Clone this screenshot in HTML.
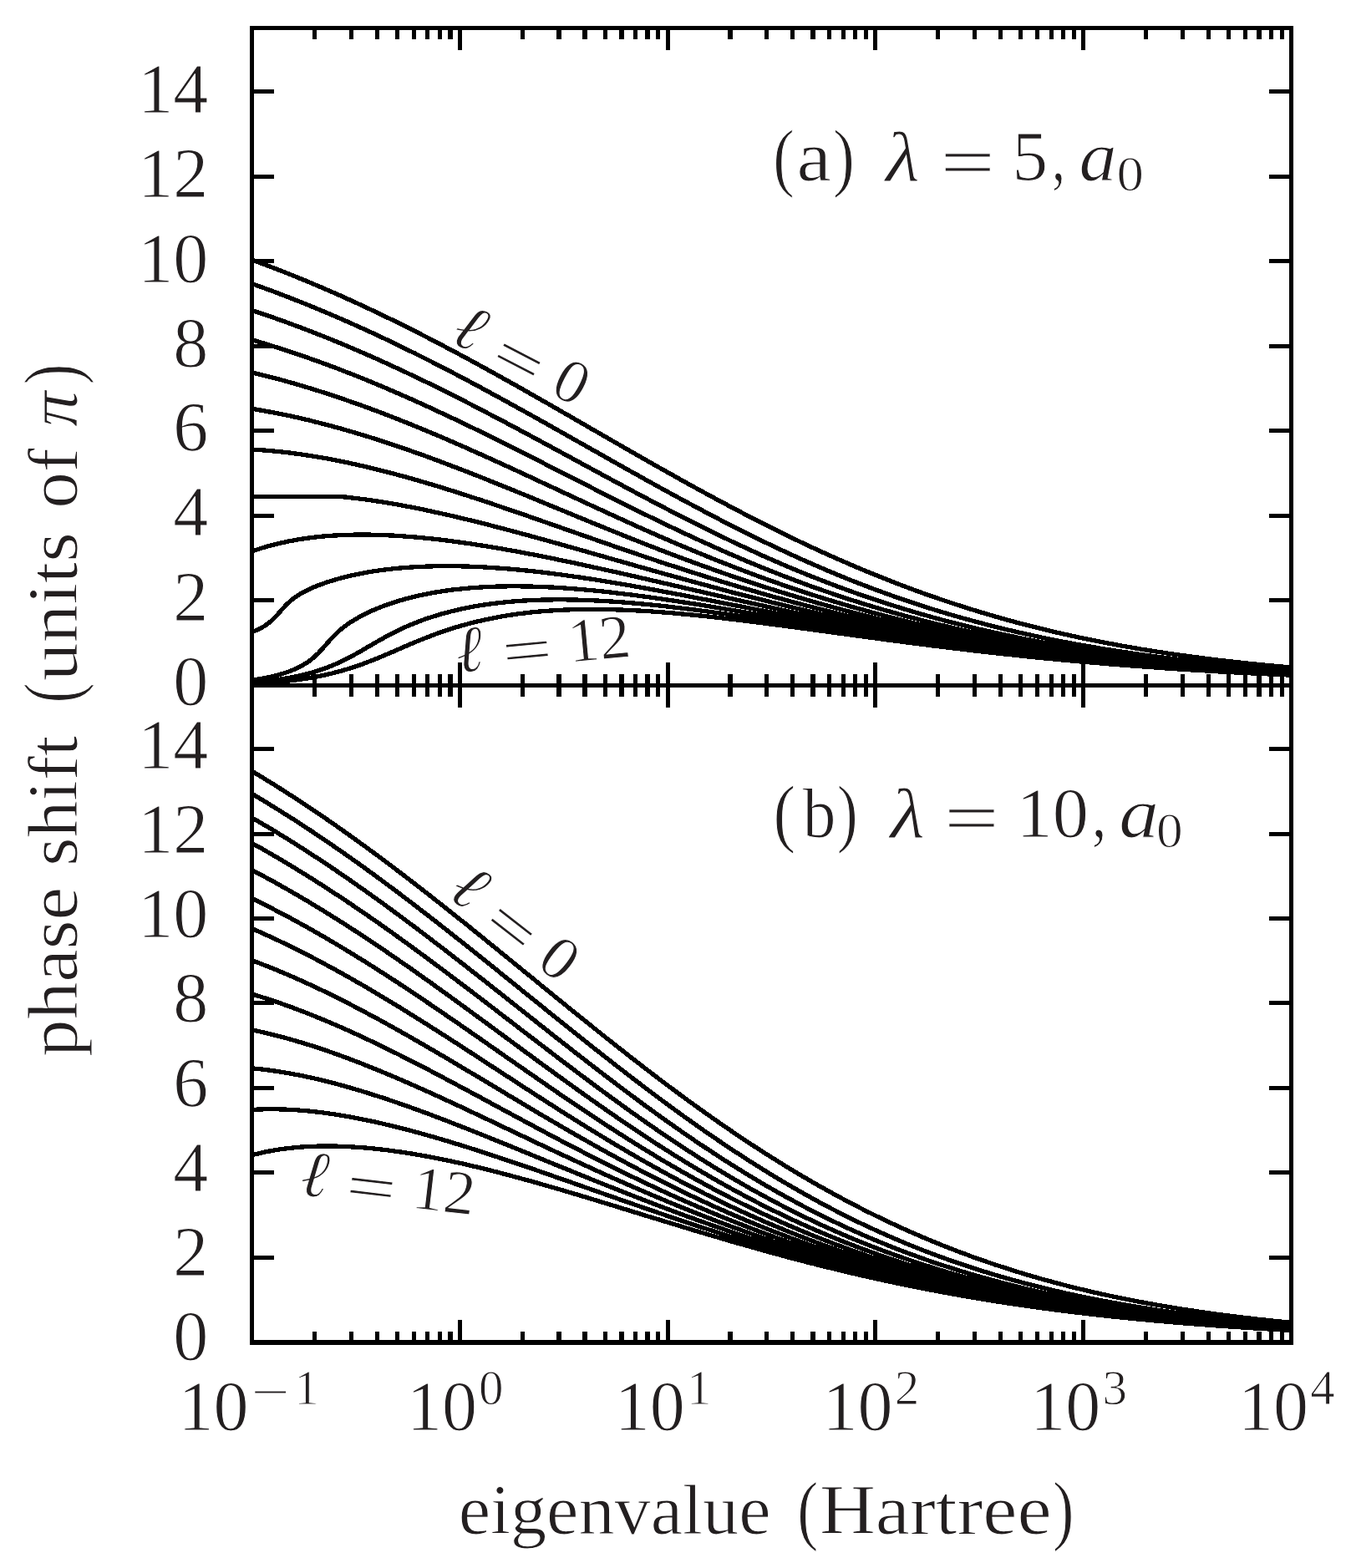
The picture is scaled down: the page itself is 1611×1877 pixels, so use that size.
<!DOCTYPE html>
<html lang="en"><head><meta charset="utf-8"><title>Phase shifts</title>
<style>html,body{margin:0;padding:0;background:#fff;overflow:hidden}svg{display:block}</style></head>
<body>
<svg width="1611" height="1877" viewBox="0 0 1611 1877" role="img" aria-label="Phase shifts versus eigenvalue for screening lengths 5 and 10 Bohr radii">
<rect x="0" y="0" width="1611" height="1877" fill="#ffffff"/>
<defs><clipPath id="ca"><rect x="301.5" y="33.5" width="1244.0" height="789.5"/></clipPath><clipPath id="cb"><rect x="301.5" y="820.5" width="1244.0" height="788.8"/></clipPath></defs>
<g fill="none" stroke="#000" stroke-width="5.3" stroke-linejoin="round" stroke-linecap="butt" shape-rendering="crispEdges" clip-path="url(#ca)">
<polyline points="301.5,311.0 306.5,312.8 311.5,314.7 316.4,316.5 321.4,318.4 326.4,320.3 331.4,322.3 336.3,324.2 341.3,326.1 346.3,328.1 351.3,330.1 356.2,332.1 361.2,334.2 366.2,336.2 371.2,338.3 376.1,340.4 381.1,342.5 386.1,344.6 391.1,346.8 396.0,348.9 401.0,351.1 406.0,353.3 411.0,355.5 415.9,357.8 420.9,360.0 425.9,362.3 430.9,364.6 435.9,366.9 440.8,369.2 445.8,371.6 450.8,373.9 455.8,376.3 460.7,378.7 465.7,381.1 470.7,383.5 475.7,386.0 480.6,388.4 485.6,390.9 490.6,393.4 495.6,395.9 500.5,398.4 505.5,401.0 510.5,403.5 515.5,406.1 520.4,408.7 525.4,411.3 530.4,413.9 535.4,416.5 540.3,419.1 545.3,421.8 550.3,424.4 555.3,427.1 560.3,429.8 565.2,432.5 570.2,435.2 575.2,437.9 580.2,440.6 585.1,443.4 590.1,446.1 595.1,448.9 600.1,451.7 605.0,454.4 610.0,457.2 615.0,460.0 620.0,462.8 624.9,465.6 629.9,468.5 634.9,471.3 639.9,474.1 644.8,477.0 649.8,479.8 654.8,482.6 659.8,485.5 664.7,488.3 669.7,491.2 674.7,494.1 679.7,496.9 684.7,499.8 689.6,502.7 694.6,505.5 699.6,508.4 704.6,511.3 709.5,514.2 714.5,517.0 719.5,519.9 724.5,522.8 729.4,525.6 734.4,528.5 739.4,531.4 744.4,534.2 749.3,537.1 754.3,540.0 759.3,542.8 764.3,545.7 769.2,548.5 774.2,551.3 779.2,554.2 784.2,557.0 789.1,559.8 794.1,562.6 799.1,565.4 804.1,568.2 809.1,571.0 814.0,573.8 819.0,576.5 824.0,579.3 829.0,582.0 833.9,584.8 838.9,587.5 843.9,590.2 848.9,592.9 853.8,595.6 858.8,598.3 863.8,601.0 868.8,603.6 873.7,606.3 878.7,608.9 883.7,611.5 888.7,614.1 893.6,616.7 898.6,619.3 903.6,621.8 908.6,624.4 913.5,626.9 918.5,629.4 923.5,631.9 928.5,634.4 933.5,636.8 938.4,639.3 943.4,641.7 948.4,644.1 953.4,646.5 958.3,648.9 963.3,651.2 968.3,653.6 973.3,655.9 978.2,658.2 983.2,660.5 988.2,662.7 993.2,665.0 998.1,667.2 1003.1,669.4 1008.1,671.6 1013.1,673.7 1018.0,675.9 1023.0,678.0 1028.0,680.1 1033.0,682.2 1037.9,684.3 1042.9,686.3 1047.9,688.3 1052.9,690.3 1057.9,692.3 1062.8,694.3 1067.8,696.2 1072.8,698.2 1077.8,700.1 1082.7,702.0 1087.7,703.8 1092.7,705.7 1097.7,707.5 1102.6,709.3 1107.6,711.1 1112.6,712.8 1117.6,714.6 1122.5,716.3 1127.5,718.0 1132.5,719.7 1137.5,721.3 1142.4,723.0 1147.4,724.6 1152.4,726.2 1157.4,727.8 1162.3,729.3 1167.3,730.9 1172.3,732.4 1177.3,733.9 1182.3,735.4 1187.2,736.8 1192.2,738.3 1197.2,739.7 1202.2,741.1 1207.1,742.5 1212.1,743.8 1217.1,745.2 1222.1,746.5 1227.0,747.8 1232.0,749.1 1237.0,750.3 1242.0,751.6 1246.9,752.8 1251.9,754.0 1256.9,755.2 1261.9,756.4 1266.8,757.6 1271.8,758.7 1276.8,759.8 1281.8,760.9 1286.7,762.0 1291.7,763.1 1296.7,764.1 1301.7,765.2 1306.7,766.2 1311.6,767.2 1316.6,768.2 1321.6,769.1 1326.6,770.1 1331.5,771.0 1336.5,771.9 1341.5,772.9 1346.5,773.7 1351.4,774.6 1356.4,775.5 1361.4,776.3 1366.4,777.2 1371.3,778.0 1376.3,778.8 1381.3,779.6 1386.3,780.3 1391.2,781.1 1396.2,781.9 1401.2,782.6 1406.2,783.3 1411.1,784.0 1416.1,784.7 1421.1,785.4 1426.1,786.1 1431.1,786.7 1436.0,787.4 1441.0,788.0 1446.0,788.6 1451.0,789.3 1455.9,789.9 1460.9,790.5 1465.9,791.0 1470.9,791.6 1475.8,792.2 1480.8,792.7 1485.8,793.2 1490.8,793.8 1495.7,794.3 1500.7,794.8 1505.7,795.3 1510.7,795.8 1515.6,796.3 1520.6,796.7 1525.6,797.2 1530.6,797.7 1535.5,798.1 1540.5,798.6 1545.5,799.0"/>
<polyline points="301.5,339.6 306.5,341.4 311.5,343.2 316.4,345.0 321.4,346.8 326.4,348.6 331.4,350.5 336.3,352.4 341.3,354.3 346.3,356.2 351.3,358.2 356.2,360.1 361.2,362.1 366.2,364.1 371.2,366.1 376.1,368.2 381.1,370.2 386.1,372.3 391.1,374.4 396.0,376.5 401.0,378.6 406.0,380.8 411.0,383.0 415.9,385.1 420.9,387.3 425.9,389.6 430.9,391.8 435.9,394.1 440.8,396.4 445.8,398.6 450.8,401.0 455.8,403.3 460.7,405.6 465.7,408.0 470.7,410.4 475.7,412.8 480.6,415.2 485.6,417.6 490.6,420.1 495.6,422.5 500.5,425.0 505.5,427.5 510.5,430.0 515.5,432.5 520.4,435.0 525.4,437.6 530.4,440.2 535.4,442.7 540.3,445.3 545.3,447.9 550.3,450.5 555.3,453.2 560.3,455.8 565.2,458.5 570.2,461.1 575.2,463.8 580.2,466.5 585.1,469.2 590.1,471.9 595.1,474.6 600.1,477.3 605.0,480.0 610.0,482.8 615.0,485.5 620.0,488.3 624.9,491.0 629.9,493.8 634.9,496.6 639.9,499.3 644.8,502.1 649.8,504.9 654.8,507.7 659.8,510.5 664.7,513.3 669.7,516.1 674.7,518.9 679.7,521.7 684.7,524.6 689.6,527.4 694.6,530.2 699.6,533.0 704.6,535.8 709.5,538.6 714.5,541.4 719.5,544.2 724.5,547.1 729.4,549.9 734.4,552.7 739.4,555.5 744.4,558.3 749.3,561.1 754.3,563.9 759.3,566.6 764.3,569.4 769.2,572.2 774.2,575.0 779.2,577.7 784.2,580.5 789.1,583.2 794.1,586.0 799.1,588.7 804.1,591.4 809.1,594.1 814.0,596.8 819.0,599.5 824.0,602.2 829.0,604.8 833.9,607.5 838.9,610.1 843.9,612.8 848.9,615.4 853.8,618.0 858.8,620.6 863.8,623.2 868.8,625.7 873.7,628.3 878.7,630.8 883.7,633.3 888.7,635.8 893.6,638.3 898.6,640.8 903.6,643.2 908.6,645.7 913.5,648.1 918.5,650.5 923.5,652.9 928.5,655.2 933.5,657.6 938.4,659.9 943.4,662.2 948.4,664.5 953.4,666.7 958.3,669.0 963.3,671.2 968.3,673.4 973.3,675.6 978.2,677.8 983.2,679.9 988.2,682.1 993.2,684.2 998.1,686.2 1003.1,688.3 1008.1,690.3 1013.1,692.4 1018.0,694.4 1023.0,696.3 1028.0,698.3 1033.0,700.2 1037.9,702.1 1042.9,704.0 1047.9,705.9 1052.9,707.7 1057.9,709.5 1062.8,711.3 1067.8,713.1 1072.8,714.9 1077.8,716.6 1082.7,718.3 1087.7,720.0 1092.7,721.7 1097.7,723.3 1102.6,724.9 1107.6,726.5 1112.6,728.1 1117.6,729.7 1122.5,731.2 1127.5,732.7 1132.5,734.2 1137.5,735.7 1142.4,737.1 1147.4,738.6 1152.4,740.0 1157.4,741.4 1162.3,742.7 1167.3,744.1 1172.3,745.4 1177.3,746.7 1182.3,748.0 1187.2,749.3 1192.2,750.5 1197.2,751.8 1202.2,753.0 1207.1,754.2 1212.1,755.3 1217.1,756.5 1222.1,757.6 1227.0,758.8 1232.0,759.9 1237.0,760.9 1242.0,762.0 1246.9,763.1 1251.9,764.1 1256.9,765.1 1261.9,766.1 1266.8,767.1 1271.8,768.1 1276.8,769.0 1281.8,769.9 1286.7,770.9 1291.7,771.8 1296.7,772.6 1301.7,773.5 1306.7,774.4 1311.6,775.2 1316.6,776.1 1321.6,776.9 1326.6,777.7 1331.5,778.5 1336.5,779.2 1341.5,780.0 1346.5,780.7 1351.4,781.5 1356.4,782.2 1361.4,782.9 1366.4,783.6 1371.3,784.3 1376.3,785.0 1381.3,785.6 1386.3,786.3 1391.2,786.9 1396.2,787.5 1401.2,788.2 1406.2,788.8 1411.1,789.4 1416.1,789.9 1421.1,790.5 1426.1,791.1 1431.1,791.6 1436.0,792.2 1441.0,792.7 1446.0,793.2 1451.0,793.7 1455.9,794.2 1460.9,794.7 1465.9,795.2 1470.9,795.7 1475.8,796.2 1480.8,796.6 1485.8,797.1 1490.8,797.5 1495.7,798.0 1500.7,798.4 1505.7,798.8 1510.7,799.2 1515.6,799.6 1520.6,800.0 1525.6,800.4 1530.6,800.8 1535.5,801.2 1540.5,801.6 1545.5,801.9"/>
<polyline points="301.5,371.5 306.5,373.1 311.5,374.8 316.4,376.5 321.4,378.2 326.4,379.9 331.4,381.7 336.3,383.4 341.3,385.2 346.3,387.0 351.3,388.9 356.2,390.7 361.2,392.6 366.2,394.5 371.2,396.4 376.1,398.3 381.1,400.3 386.1,402.2 391.1,404.2 396.0,406.2 401.0,408.3 406.0,410.3 411.0,412.4 415.9,414.5 420.9,416.6 425.9,418.7 430.9,420.9 435.9,423.0 440.8,425.2 445.8,427.4 450.8,429.6 455.8,431.8 460.7,434.1 465.7,436.4 470.7,438.7 475.7,441.0 480.6,443.3 485.6,445.6 490.6,448.0 495.6,450.3 500.5,452.7 505.5,455.1 510.5,457.5 515.5,459.9 520.4,462.4 525.4,464.8 530.4,467.3 535.4,469.8 540.3,472.3 545.3,474.8 550.3,477.3 555.3,479.8 560.3,482.4 565.2,484.9 570.2,487.5 575.2,490.1 580.2,492.7 585.1,495.3 590.1,497.9 595.1,500.5 600.1,503.1 605.0,505.7 610.0,508.4 615.0,511.0 620.0,513.7 624.9,516.3 629.9,519.0 634.9,521.7 639.9,524.3 644.8,527.0 649.8,529.7 654.8,532.4 659.8,535.1 664.7,537.8 669.7,540.5 674.7,543.2 679.7,545.9 684.7,548.6 689.6,551.3 694.6,554.0 699.6,556.7 704.6,559.4 709.5,562.1 714.5,564.8 719.5,567.5 724.5,570.2 729.4,572.9 734.4,575.5 739.4,578.2 744.4,580.9 749.3,583.6 754.3,586.2 759.3,588.9 764.3,591.5 769.2,594.2 774.2,596.8 779.2,599.4 784.2,602.0 789.1,604.7 794.1,607.2 799.1,609.8 804.1,612.4 809.1,615.0 814.0,617.5 819.0,620.1 824.0,622.6 829.0,625.1 833.9,627.6 838.9,630.1 843.9,632.6 848.9,635.0 853.8,637.5 858.8,639.9 863.8,642.3 868.8,644.7 873.7,647.1 878.7,649.5 883.7,651.8 888.7,654.1 893.6,656.4 898.6,658.7 903.6,661.0 908.6,663.3 913.5,665.5 918.5,667.7 923.5,669.9 928.5,672.1 933.5,674.2 938.4,676.4 943.4,678.5 948.4,680.6 953.4,682.7 958.3,684.7 963.3,686.8 968.3,688.8 973.3,690.8 978.2,692.7 983.2,694.7 988.2,696.6 993.2,698.5 998.1,700.4 1003.1,702.3 1008.1,704.1 1013.1,705.9 1018.0,707.7 1023.0,709.5 1028.0,711.3 1033.0,713.0 1037.9,714.7 1042.9,716.4 1047.9,718.1 1052.9,719.7 1057.9,721.4 1062.8,723.0 1067.8,724.5 1072.8,726.1 1077.8,727.7 1082.7,729.2 1087.7,730.7 1092.7,732.2 1097.7,733.6 1102.6,735.1 1107.6,736.5 1112.6,737.9 1117.6,739.3 1122.5,740.6 1127.5,742.0 1132.5,743.3 1137.5,744.6 1142.4,745.9 1147.4,747.1 1152.4,748.4 1157.4,749.6 1162.3,750.8 1167.3,752.0 1172.3,753.2 1177.3,754.3 1182.3,755.5 1187.2,756.6 1192.2,757.7 1197.2,758.8 1202.2,759.9 1207.1,760.9 1212.1,761.9 1217.1,763.0 1222.1,764.0 1227.0,765.0 1232.0,765.9 1237.0,766.9 1242.0,767.8 1246.9,768.8 1251.9,769.7 1256.9,770.6 1261.9,771.4 1266.8,772.3 1271.8,773.2 1276.8,774.0 1281.8,774.8 1286.7,775.6 1291.7,776.4 1296.7,777.2 1301.7,778.0 1306.7,778.8 1311.6,779.5 1316.6,780.3 1321.6,781.0 1326.6,781.7 1331.5,782.4 1336.5,783.1 1341.5,783.7 1346.5,784.4 1351.4,785.1 1356.4,785.7 1361.4,786.3 1366.4,787.0 1371.3,787.6 1376.3,788.2 1381.3,788.8 1386.3,789.3 1391.2,789.9 1396.2,790.5 1401.2,791.0 1406.2,791.6 1411.1,792.1 1416.1,792.6 1421.1,793.1 1426.1,793.6 1431.1,794.1 1436.0,794.6 1441.0,795.1 1446.0,795.6 1451.0,796.0 1455.9,796.5 1460.9,796.9 1465.9,797.4 1470.9,797.8 1475.8,798.2 1480.8,798.6 1485.8,799.0 1490.8,799.4 1495.7,799.8 1500.7,800.2 1505.7,800.6 1510.7,801.0 1515.6,801.3 1520.6,801.7 1525.6,802.0 1530.6,802.4 1535.5,802.7 1540.5,803.1 1545.5,803.4"/>
<polyline points="301.5,406.8 306.5,408.2 311.5,409.7 316.4,411.2 321.4,412.7 326.4,414.3 331.4,415.9 336.3,417.5 341.3,419.1 346.3,420.7 351.3,422.4 356.2,424.1 361.2,425.8 366.2,427.5 371.2,429.2 376.1,431.0 381.1,432.8 386.1,434.6 391.1,436.4 396.0,438.3 401.0,440.1 406.0,442.0 411.0,444.0 415.9,445.9 420.9,447.8 425.9,449.8 430.9,451.8 435.9,453.8 440.8,455.8 445.8,457.9 450.8,460.0 455.8,462.0 460.7,464.1 465.7,466.3 470.7,468.4 475.7,470.6 480.6,472.7 485.6,474.9 490.6,477.1 495.6,479.3 500.5,481.6 505.5,483.8 510.5,486.1 515.5,488.4 520.4,490.7 525.4,493.0 530.4,495.3 535.4,497.6 540.3,500.0 545.3,502.3 550.3,504.7 555.3,507.1 560.3,509.5 565.2,511.9 570.2,514.3 575.2,516.8 580.2,519.2 585.1,521.6 590.1,524.1 595.1,526.6 600.1,529.0 605.0,531.5 610.0,534.0 615.0,536.5 620.0,539.0 624.9,541.5 629.9,544.0 634.9,546.5 639.9,549.1 644.8,551.6 649.8,554.1 654.8,556.7 659.8,559.2 664.7,561.7 669.7,564.3 674.7,566.8 679.7,569.3 684.7,571.9 689.6,574.4 694.6,576.9 699.6,579.5 704.6,582.0 709.5,584.5 714.5,587.1 719.5,589.6 724.5,592.1 729.4,594.6 734.4,597.1 739.4,599.6 744.4,602.1 749.3,604.6 754.3,607.1 759.3,609.5 764.3,612.0 769.2,614.5 774.2,616.9 779.2,619.3 784.2,621.8 789.1,624.2 794.1,626.6 799.1,629.0 804.1,631.3 809.1,633.7 814.0,636.1 819.0,638.4 824.0,640.7 829.0,643.0 833.9,645.3 838.9,647.6 843.9,649.9 848.9,652.1 853.8,654.4 858.8,656.6 863.8,658.8 868.8,661.0 873.7,663.2 878.7,665.3 883.7,667.4 888.7,669.6 893.6,671.7 898.6,673.7 903.6,675.8 908.6,677.8 913.5,679.9 918.5,681.9 923.5,683.9 928.5,685.8 933.5,687.8 938.4,689.7 943.4,691.6 948.4,693.5 953.4,695.4 958.3,697.2 963.3,699.1 968.3,700.9 973.3,702.7 978.2,704.4 983.2,706.2 988.2,707.9 993.2,709.6 998.1,711.3 1003.1,713.0 1008.1,714.6 1013.1,716.3 1018.0,717.9 1023.0,719.5 1028.0,721.0 1033.0,722.6 1037.9,724.1 1042.9,725.6 1047.9,727.1 1052.9,728.6 1057.9,730.1 1062.8,731.5 1067.8,732.9 1072.8,734.3 1077.8,735.7 1082.7,737.1 1087.7,738.4 1092.7,739.7 1097.7,741.0 1102.6,742.3 1107.6,743.6 1112.6,744.8 1117.6,746.1 1122.5,747.3 1127.5,748.5 1132.5,749.7 1137.5,750.9 1142.4,752.0 1147.4,753.1 1152.4,754.3 1157.4,755.4 1162.3,756.5 1167.3,757.5 1172.3,758.6 1177.3,759.6 1182.3,760.6 1187.2,761.7 1192.2,762.6 1197.2,763.6 1202.2,764.6 1207.1,765.5 1212.1,766.5 1217.1,767.4 1222.1,768.3 1227.0,769.2 1232.0,770.1 1237.0,770.9 1242.0,771.8 1246.9,772.6 1251.9,773.5 1256.9,774.3 1261.9,775.1 1266.8,775.9 1271.8,776.6 1276.8,777.4 1281.8,778.1 1286.7,778.9 1291.7,779.6 1296.7,780.3 1301.7,781.0 1306.7,781.7 1311.6,782.4 1316.6,783.1 1321.6,783.7 1326.6,784.4 1331.5,785.0 1336.5,785.7 1341.5,786.3 1346.5,786.9 1351.4,787.5 1356.4,788.1 1361.4,788.7 1366.4,789.2 1371.3,789.8 1376.3,790.3 1381.3,790.9 1386.3,791.4 1391.2,791.9 1396.2,792.4 1401.2,792.9 1406.2,793.4 1411.1,793.9 1416.1,794.4 1421.1,794.9 1426.1,795.3 1431.1,795.8 1436.0,796.3 1441.0,796.7 1446.0,797.1 1451.0,797.6 1455.9,798.0 1460.9,798.4 1465.9,798.8 1470.9,799.2 1475.8,799.6 1480.8,800.0 1485.8,800.3 1490.8,800.7 1495.7,801.1 1500.7,801.4 1505.7,801.8 1510.7,802.1 1515.6,802.5 1520.6,802.8 1525.6,803.1 1530.6,803.5 1535.5,803.8 1540.5,804.1 1545.5,804.4"/>
<polyline points="301.5,445.9 306.5,447.1 311.5,448.3 316.4,449.5 321.4,450.8 326.4,452.1 331.4,453.4 336.3,454.7 341.3,456.1 346.3,457.5 351.3,458.9 356.2,460.3 361.2,461.8 366.2,463.3 371.2,464.8 376.1,466.4 381.1,467.9 386.1,469.5 391.1,471.1 396.0,472.7 401.0,474.4 406.0,476.0 411.0,477.7 415.9,479.5 420.9,481.2 425.9,483.0 430.9,484.7 435.9,486.5 440.8,488.3 445.8,490.2 450.8,492.0 455.8,493.9 460.7,495.8 465.7,497.7 470.7,499.7 475.7,501.6 480.6,503.6 485.6,505.6 490.6,507.6 495.6,509.6 500.5,511.6 505.5,513.7 510.5,515.7 515.5,517.8 520.4,519.9 525.4,522.0 530.4,524.1 535.4,526.3 540.3,528.4 545.3,530.6 550.3,532.8 555.3,534.9 560.3,537.1 565.2,539.4 570.2,541.6 575.2,543.8 580.2,546.0 585.1,548.3 590.1,550.5 595.1,552.8 600.1,555.1 605.0,557.3 610.0,559.6 615.0,561.9 620.0,564.2 624.9,566.5 629.9,568.8 634.9,571.1 639.9,573.4 644.8,575.8 649.8,578.1 654.8,580.4 659.8,582.7 664.7,585.0 669.7,587.4 674.7,589.7 679.7,592.0 684.7,594.3 689.6,596.6 694.6,599.0 699.6,601.3 704.6,603.6 709.5,605.9 714.5,608.2 719.5,610.5 724.5,612.8 729.4,615.1 734.4,617.3 739.4,619.6 744.4,621.9 749.3,624.1 754.3,626.4 759.3,628.6 764.3,630.9 769.2,633.1 774.2,635.3 779.2,637.5 784.2,639.7 789.1,641.9 794.1,644.0 799.1,646.2 804.1,648.4 809.1,650.5 814.0,652.6 819.0,654.7 824.0,656.8 829.0,658.9 833.9,660.9 838.9,663.0 843.9,665.0 848.9,667.1 853.8,669.1 858.8,671.1 863.8,673.0 868.8,675.0 873.7,676.9 878.7,678.9 883.7,680.8 888.7,682.7 893.6,684.5 898.6,686.4 903.6,688.3 908.6,690.1 913.5,691.9 918.5,693.7 923.5,695.5 928.5,697.2 933.5,699.0 938.4,700.7 943.4,702.4 948.4,704.1 953.4,705.8 958.3,707.4 963.3,709.0 968.3,710.7 973.3,712.3 978.2,713.9 983.2,715.4 988.2,717.0 993.2,718.5 998.1,720.0 1003.1,721.5 1008.1,723.0 1013.1,724.5 1018.0,725.9 1023.0,727.3 1028.0,728.7 1033.0,730.1 1037.9,731.5 1042.9,732.9 1047.9,734.2 1052.9,735.5 1057.9,736.9 1062.8,738.1 1067.8,739.4 1072.8,740.7 1077.8,741.9 1082.7,743.2 1087.7,744.4 1092.7,745.6 1097.7,746.8 1102.6,747.9 1107.6,749.1 1112.6,750.2 1117.6,751.3 1122.5,752.4 1127.5,753.5 1132.5,754.6 1137.5,755.7 1142.4,756.7 1147.4,757.7 1152.4,758.8 1157.4,759.8 1162.3,760.8 1167.3,761.7 1172.3,762.7 1177.3,763.6 1182.3,764.6 1187.2,765.5 1192.2,766.4 1197.2,767.3 1202.2,768.2 1207.1,769.1 1212.1,769.9 1217.1,770.8 1222.1,771.6 1227.0,772.4 1232.0,773.2 1237.0,774.0 1242.0,774.8 1246.9,775.6 1251.9,776.3 1256.9,777.1 1261.9,777.8 1266.8,778.5 1271.8,779.3 1276.8,780.0 1281.8,780.7 1286.7,781.3 1291.7,782.0 1296.7,782.7 1301.7,783.3 1306.7,784.0 1311.6,784.6 1316.6,785.2 1321.6,785.8 1326.6,786.4 1331.5,787.0 1336.5,787.6 1341.5,788.2 1346.5,788.7 1351.4,789.3 1356.4,789.8 1361.4,790.4 1366.4,790.9 1371.3,791.4 1376.3,792.0 1381.3,792.5 1386.3,793.0 1391.2,793.4 1396.2,793.9 1401.2,794.4 1406.2,794.9 1411.1,795.3 1416.1,795.8 1421.1,796.2 1426.1,796.6 1431.1,797.1 1436.0,797.5 1441.0,797.9 1446.0,798.3 1451.0,798.7 1455.9,799.1 1460.9,799.5 1465.9,799.9 1470.9,800.2 1475.8,800.6 1480.8,801.0 1485.8,801.3 1490.8,801.7 1495.7,802.0 1500.7,802.3 1505.7,802.7 1510.7,803.0 1515.6,803.3 1520.6,803.6 1525.6,803.9 1530.6,804.3 1535.5,804.5 1540.5,804.8 1545.5,805.1"/>
<polyline points="301.5,489.3 306.5,490.1 311.5,491.0 316.4,491.9 321.4,492.8 326.4,493.7 331.4,494.7 336.3,495.7 341.3,496.7 346.3,497.7 351.3,498.8 356.2,499.9 361.2,501.1 366.2,502.2 371.2,503.4 376.1,504.7 381.1,505.9 386.1,507.2 391.1,508.5 396.0,509.8 401.0,511.2 406.0,512.5 411.0,513.9 415.9,515.4 420.9,516.8 425.9,518.3 430.9,519.8 435.9,521.3 440.8,522.8 445.8,524.4 450.8,526.0 455.8,527.6 460.7,529.2 465.7,530.8 470.7,532.5 475.7,534.2 480.6,535.9 485.6,537.6 490.6,539.3 495.6,541.1 500.5,542.8 505.5,544.6 510.5,546.4 515.5,548.2 520.4,550.1 525.4,551.9 530.4,553.8 535.4,555.7 540.3,557.6 545.3,559.5 550.3,561.4 555.3,563.3 560.3,565.2 565.2,567.2 570.2,569.1 575.2,571.1 580.2,573.1 585.1,575.1 590.1,577.1 595.1,579.1 600.1,581.1 605.0,583.1 610.0,585.1 615.0,587.1 620.0,589.2 624.9,591.2 629.9,593.2 634.9,595.3 639.9,597.3 644.8,599.4 649.8,601.4 654.8,603.5 659.8,605.6 664.7,607.6 669.7,609.7 674.7,611.7 679.7,613.8 684.7,615.8 689.6,617.9 694.6,619.9 699.6,622.0 704.6,624.0 709.5,626.1 714.5,628.1 719.5,630.1 724.5,632.2 729.4,634.2 734.4,636.2 739.4,638.2 744.4,640.2 749.3,642.2 754.3,644.2 759.3,646.2 764.3,648.1 769.2,650.1 774.2,652.1 779.2,654.0 784.2,655.9 789.1,657.9 794.1,659.8 799.1,661.7 804.1,663.6 809.1,665.5 814.0,667.3 819.0,669.2 824.0,671.0 829.0,672.9 833.9,674.7 838.9,676.5 843.9,678.3 848.9,680.1 853.8,681.9 858.8,683.6 863.8,685.4 868.8,687.1 873.7,688.8 878.7,690.5 883.7,692.2 888.7,693.9 893.6,695.6 898.6,697.2 903.6,698.9 908.6,700.5 913.5,702.1 918.5,703.7 923.5,705.3 928.5,706.8 933.5,708.4 938.4,709.9 943.4,711.4 948.4,712.9 953.4,714.4 958.3,715.9 963.3,717.4 968.3,718.8 973.3,720.2 978.2,721.7 983.2,723.1 988.2,724.5 993.2,725.8 998.1,727.2 1003.1,728.5 1008.1,729.9 1013.1,731.2 1018.0,732.5 1023.0,733.8 1028.0,735.0 1033.0,736.3 1037.9,737.6 1042.9,738.8 1047.9,740.0 1052.9,741.2 1057.9,742.4 1062.8,743.6 1067.8,744.7 1072.8,745.9 1077.8,747.0 1082.7,748.1 1087.7,749.2 1092.7,750.3 1097.7,751.4 1102.6,752.5 1107.6,753.5 1112.6,754.5 1117.6,755.6 1122.5,756.6 1127.5,757.6 1132.5,758.6 1137.5,759.5 1142.4,760.5 1147.4,761.4 1152.4,762.4 1157.4,763.3 1162.3,764.2 1167.3,765.1 1172.3,766.0 1177.3,766.9 1182.3,767.7 1187.2,768.6 1192.2,769.4 1197.2,770.3 1202.2,771.1 1207.1,771.9 1212.1,772.7 1217.1,773.5 1222.1,774.2 1227.0,775.0 1232.0,775.7 1237.0,776.5 1242.0,777.2 1246.9,777.9 1251.9,778.6 1256.9,779.3 1261.9,780.0 1266.8,780.7 1271.8,781.4 1276.8,782.0 1281.8,782.7 1286.7,783.3 1291.7,783.9 1296.7,784.5 1301.7,785.2 1306.7,785.8 1311.6,786.3 1316.6,786.9 1321.6,787.5 1326.6,788.1 1331.5,788.6 1336.5,789.2 1341.5,789.7 1346.5,790.2 1351.4,790.8 1356.4,791.3 1361.4,791.8 1366.4,792.3 1371.3,792.8 1376.3,793.2 1381.3,793.7 1386.3,794.2 1391.2,794.7 1396.2,795.1 1401.2,795.5 1406.2,796.0 1411.1,796.4 1416.1,796.8 1421.1,797.3 1426.1,797.7 1431.1,798.1 1436.0,798.5 1441.0,798.9 1446.0,799.2 1451.0,799.6 1455.9,800.0 1460.9,800.4 1465.9,800.7 1470.9,801.1 1475.8,801.4 1480.8,801.8 1485.8,802.1 1490.8,802.4 1495.7,802.8 1500.7,803.1 1505.7,803.4 1510.7,803.7 1515.6,804.0 1520.6,804.3 1525.6,804.6 1530.6,804.9 1535.5,805.2 1540.5,805.4 1545.5,805.7"/>
<polyline points="301.5,538.1 306.5,538.4 311.5,538.7 316.4,539.0 321.4,539.4 326.4,539.9 331.4,540.4 336.3,540.9 341.3,541.4 346.3,542.0 351.3,542.7 356.2,543.3 361.2,544.0 366.2,544.8 371.2,545.5 376.1,546.3 381.1,547.2 386.1,548.0 391.1,548.9 396.0,549.9 401.0,550.8 406.0,551.8 411.0,552.8 415.9,553.8 420.9,554.9 425.9,556.0 430.9,557.1 435.9,558.3 440.8,559.4 445.8,560.6 450.8,561.9 455.8,563.1 460.7,564.4 465.7,565.7 470.7,567.0 475.7,568.3 480.6,569.6 485.6,571.0 490.6,572.4 495.6,573.8 500.5,575.2 505.5,576.7 510.5,578.2 515.5,579.6 520.4,581.1 525.4,582.6 530.4,584.2 535.4,585.7 540.3,587.3 545.3,588.8 550.3,590.4 555.3,592.0 560.3,593.6 565.2,595.3 570.2,596.9 575.2,598.5 580.2,600.2 585.1,601.8 590.1,603.5 595.1,605.2 600.1,606.9 605.0,608.6 610.0,610.3 615.0,612.0 620.0,613.7 624.9,615.4 629.9,617.1 634.9,618.9 639.9,620.6 644.8,622.3 649.8,624.1 654.8,625.8 659.8,627.6 664.7,629.3 669.7,631.0 674.7,632.8 679.7,634.5 684.7,636.3 689.6,638.0 694.6,639.8 699.6,641.5 704.6,643.3 709.5,645.0 714.5,646.7 719.5,648.5 724.5,650.2 729.4,651.9 734.4,653.7 739.4,655.4 744.4,657.1 749.3,658.8 754.3,660.5 759.3,662.2 764.3,663.9 769.2,665.6 774.2,667.3 779.2,668.9 784.2,670.6 789.1,672.3 794.1,673.9 799.1,675.6 804.1,677.2 809.1,678.8 814.0,680.4 819.0,682.1 824.0,683.7 829.0,685.2 833.9,686.8 838.9,688.4 843.9,690.0 848.9,691.5 853.8,693.1 858.8,694.6 863.8,696.2 868.8,697.7 873.7,699.2 878.7,700.7 883.7,702.2 888.7,703.6 893.6,705.1 898.6,706.6 903.6,708.0 908.6,709.4 913.5,710.9 918.5,712.3 923.5,713.7 928.5,715.1 933.5,716.4 938.4,717.8 943.4,719.2 948.4,720.5 953.4,721.8 958.3,723.1 963.3,724.5 968.3,725.7 973.3,727.0 978.2,728.3 983.2,729.6 988.2,730.8 993.2,732.0 998.1,733.3 1003.1,734.5 1008.1,735.7 1013.1,736.9 1018.0,738.1 1023.0,739.2 1028.0,740.4 1033.0,741.5 1037.9,742.6 1042.9,743.8 1047.9,744.9 1052.9,746.0 1057.9,747.0 1062.8,748.1 1067.8,749.2 1072.8,750.2 1077.8,751.3 1082.7,752.3 1087.7,753.3 1092.7,754.3 1097.7,755.3 1102.6,756.3 1107.6,757.2 1112.6,758.2 1117.6,759.1 1122.5,760.1 1127.5,761.0 1132.5,761.9 1137.5,762.8 1142.4,763.7 1147.4,764.6 1152.4,765.4 1157.4,766.3 1162.3,767.1 1167.3,767.9 1172.3,768.8 1177.3,769.6 1182.3,770.4 1187.2,771.2 1192.2,772.0 1197.2,772.7 1202.2,773.5 1207.1,774.2 1212.1,775.0 1217.1,775.7 1222.1,776.4 1227.0,777.1 1232.0,777.8 1237.0,778.5 1242.0,779.2 1246.9,779.9 1251.9,780.5 1256.9,781.2 1261.9,781.8 1266.8,782.5 1271.8,783.1 1276.8,783.7 1281.8,784.3 1286.7,784.9 1291.7,785.5 1296.7,786.1 1301.7,786.7 1306.7,787.2 1311.6,787.8 1316.6,788.4 1321.6,788.9 1326.6,789.4 1331.5,789.9 1336.5,790.5 1341.5,791.0 1346.5,791.5 1351.4,792.0 1356.4,792.5 1361.4,792.9 1366.4,793.4 1371.3,793.9 1376.3,794.3 1381.3,794.8 1386.3,795.2 1391.2,795.7 1396.2,796.1 1401.2,796.5 1406.2,796.9 1411.1,797.3 1416.1,797.7 1421.1,798.1 1426.1,798.5 1431.1,798.9 1436.0,799.3 1441.0,799.7 1446.0,800.0 1451.0,800.4 1455.9,800.7 1460.9,801.1 1465.9,801.4 1470.9,801.8 1475.8,802.1 1480.8,802.4 1485.8,802.8 1490.8,803.1 1495.7,803.4 1500.7,803.7 1505.7,804.0 1510.7,804.3 1515.6,804.6 1520.6,804.9 1525.6,805.1 1530.6,805.4 1535.5,805.7 1540.5,806.0 1545.5,806.2"/>
<polyline points="301.5,594.2 306.5,594.2 311.5,594.2 316.4,594.2 321.4,594.2 326.4,594.2 331.4,594.2 336.3,594.2 341.3,594.2 346.3,594.2 351.3,594.2 356.2,594.2 361.2,594.2 366.2,594.2 371.2,594.2 376.1,594.2 381.1,594.2 386.1,594.2 391.1,594.2 396.0,594.2 401.0,594.2 406.0,594.3 411.0,594.8 415.9,595.3 420.9,595.9 425.9,596.5 430.9,597.1 435.9,597.7 440.8,598.4 445.8,599.1 450.8,599.9 455.8,600.7 460.7,601.5 465.7,602.3 470.7,603.2 475.7,604.0 480.6,604.9 485.6,605.9 490.6,606.8 495.6,607.8 500.5,608.8 505.5,609.8 510.5,610.8 515.5,611.9 520.4,613.0 525.4,614.1 530.4,615.2 535.4,616.3 540.3,617.4 545.3,618.6 550.3,619.8 555.3,621.0 560.3,622.2 565.2,623.4 570.2,624.6 575.2,625.9 580.2,627.1 585.1,628.4 590.1,629.7 595.1,631.0 600.1,632.3 605.0,633.6 610.0,634.9 615.0,636.2 620.0,637.6 624.9,638.9 629.9,640.3 634.9,641.6 639.9,643.0 644.8,644.4 649.8,645.7 654.8,647.1 659.8,648.5 664.7,649.9 669.7,651.3 674.7,652.7 679.7,654.1 684.7,655.5 689.6,656.9 694.6,658.3 699.6,659.7 704.6,661.2 709.5,662.6 714.5,664.0 719.5,665.4 724.5,666.8 729.4,668.3 734.4,669.7 739.4,671.1 744.4,672.5 749.3,673.9 754.3,675.3 759.3,676.8 764.3,678.2 769.2,679.6 774.2,681.0 779.2,682.4 784.2,683.8 789.1,685.2 794.1,686.6 799.1,688.0 804.1,689.4 809.1,690.7 814.0,692.1 819.0,693.5 824.0,694.9 829.0,696.2 833.9,697.6 838.9,698.9 843.9,700.3 848.9,701.6 853.8,703.0 858.8,704.3 863.8,705.6 868.8,707.0 873.7,708.3 878.7,709.6 883.7,710.9 888.7,712.2 893.6,713.4 898.6,714.7 903.6,716.0 908.6,717.2 913.5,718.5 918.5,719.7 923.5,721.0 928.5,722.2 933.5,723.4 938.4,724.6 943.4,725.9 948.4,727.1 953.4,728.2 958.3,729.4 963.3,730.6 968.3,731.7 973.3,732.9 978.2,734.0 983.2,735.2 988.2,736.3 993.2,737.4 998.1,738.5 1003.1,739.6 1008.1,740.7 1013.1,741.8 1018.0,742.9 1023.0,743.9 1028.0,745.0 1033.0,746.0 1037.9,747.0 1042.9,748.1 1047.9,749.1 1052.9,750.1 1057.9,751.1 1062.8,752.0 1067.8,753.0 1072.8,754.0 1077.8,754.9 1082.7,755.9 1087.7,756.8 1092.7,757.7 1097.7,758.6 1102.6,759.5 1107.6,760.4 1112.6,761.3 1117.6,762.2 1122.5,763.0 1127.5,763.9 1132.5,764.7 1137.5,765.6 1142.4,766.4 1147.4,767.2 1152.4,768.0 1157.4,768.8 1162.3,769.6 1167.3,770.4 1172.3,771.1 1177.3,771.9 1182.3,772.7 1187.2,773.4 1192.2,774.1 1197.2,774.8 1202.2,775.6 1207.1,776.3 1212.1,777.0 1217.1,777.6 1222.1,778.3 1227.0,779.0 1232.0,779.6 1237.0,780.3 1242.0,780.9 1246.9,781.6 1251.9,782.2 1256.9,782.8 1261.9,783.4 1266.8,784.0 1271.8,784.6 1276.8,785.2 1281.8,785.8 1286.7,786.3 1291.7,786.9 1296.7,787.4 1301.7,788.0 1306.7,788.5 1311.6,789.1 1316.6,789.6 1321.6,790.1 1326.6,790.6 1331.5,791.1 1336.5,791.6 1341.5,792.1 1346.5,792.5 1351.4,793.0 1356.4,793.5 1361.4,793.9 1366.4,794.4 1371.3,794.8 1376.3,795.3 1381.3,795.7 1386.3,796.1 1391.2,796.5 1396.2,796.9 1401.2,797.3 1406.2,797.7 1411.1,798.1 1416.1,798.5 1421.1,798.9 1426.1,799.3 1431.1,799.6 1436.0,800.0 1441.0,800.4 1446.0,800.7 1451.0,801.0 1455.9,801.4 1460.9,801.7 1465.9,802.1 1470.9,802.4 1475.8,802.7 1480.8,803.0 1485.8,803.3 1490.8,803.6 1495.7,803.9 1500.7,804.2 1505.7,804.5 1510.7,804.8 1515.6,805.1 1520.6,805.3 1525.6,805.6 1530.6,805.9 1535.5,806.1 1540.5,806.4 1545.5,806.6"/>
<polyline points="301.5,660.1 306.5,658.3 311.5,656.7 316.4,655.1 321.4,653.7 326.4,652.4 331.4,651.1 336.3,650.0 341.3,648.9 346.3,647.8 351.3,646.9 356.2,646.0 361.2,645.2 366.2,644.4 371.2,643.8 376.1,643.2 381.1,642.6 386.1,642.1 391.1,641.7 396.0,641.3 401.0,641.0 406.0,640.7 411.0,640.5 415.9,640.3 420.9,640.2 425.9,640.1 430.9,640.1 435.9,640.1 440.8,640.1 445.8,640.2 450.8,640.3 455.8,640.5 460.7,640.6 465.7,640.9 470.7,641.1 475.7,641.4 480.6,641.7 485.6,642.1 490.6,642.5 495.6,642.9 500.5,643.3 505.5,643.8 510.5,644.3 515.5,644.8 520.4,645.3 525.4,645.9 530.4,646.5 535.4,647.1 540.3,647.8 545.3,648.4 550.3,649.1 555.3,649.8 560.3,650.5 565.2,651.2 570.2,652.0 575.2,652.8 580.2,653.6 585.1,654.4 590.1,655.2 595.1,656.0 600.1,656.9 605.0,657.8 610.0,658.6 615.0,659.5 620.0,660.5 624.9,661.4 629.9,662.3 634.9,663.3 639.9,664.2 644.8,665.2 649.8,666.2 654.8,667.2 659.8,668.2 664.7,669.2 669.7,670.3 674.7,671.3 679.7,672.3 684.7,673.4 689.6,674.4 694.6,675.5 699.6,676.6 704.6,677.7 709.5,678.8 714.5,679.9 719.5,681.0 724.5,682.1 729.4,683.2 734.4,684.3 739.4,685.4 744.4,686.5 749.3,687.7 754.3,688.8 759.3,689.9 764.3,691.1 769.2,692.2 774.2,693.4 779.2,694.5 784.2,695.7 789.1,696.8 794.1,698.0 799.1,699.1 804.1,700.3 809.1,701.4 814.0,702.6 819.0,703.7 824.0,704.9 829.0,706.0 833.9,707.2 838.9,708.3 843.9,709.5 848.9,710.6 853.8,711.8 858.8,712.9 863.8,714.0 868.8,715.2 873.7,716.3 878.7,717.4 883.7,718.6 888.7,719.7 893.6,720.8 898.6,721.9 903.6,723.0 908.6,724.1 913.5,725.2 918.5,726.3 923.5,727.4 928.5,728.5 933.5,729.6 938.4,730.7 943.4,731.8 948.4,732.8 953.4,733.9 958.3,734.9 963.3,736.0 968.3,737.0 973.3,738.1 978.2,739.1 983.2,740.1 988.2,741.1 993.2,742.1 998.1,743.1 1003.1,744.1 1008.1,745.1 1013.1,746.1 1018.0,747.1 1023.0,748.0 1028.0,749.0 1033.0,749.9 1037.9,750.9 1042.9,751.8 1047.9,752.7 1052.9,753.7 1057.9,754.6 1062.8,755.5 1067.8,756.4 1072.8,757.2 1077.8,758.1 1082.7,759.0 1087.7,759.9 1092.7,760.7 1097.7,761.6 1102.6,762.4 1107.6,763.2 1112.6,764.0 1117.6,764.9 1122.5,765.7 1127.5,766.5 1132.5,767.2 1137.5,768.0 1142.4,768.8 1147.4,769.5 1152.4,770.3 1157.4,771.0 1162.3,771.8 1167.3,772.5 1172.3,773.2 1177.3,773.9 1182.3,774.6 1187.2,775.3 1192.2,776.0 1197.2,776.7 1202.2,777.4 1207.1,778.0 1212.1,778.7 1217.1,779.3 1222.1,780.0 1227.0,780.6 1232.0,781.2 1237.0,781.8 1242.0,782.4 1246.9,783.0 1251.9,783.6 1256.9,784.2 1261.9,784.8 1266.8,785.4 1271.8,785.9 1276.8,786.5 1281.8,787.0 1286.7,787.6 1291.7,788.1 1296.7,788.6 1301.7,789.1 1306.7,789.6 1311.6,790.1 1316.6,790.6 1321.6,791.1 1326.6,791.6 1331.5,792.1 1336.5,792.6 1341.5,793.0 1346.5,793.5 1351.4,793.9 1356.4,794.4 1361.4,794.8 1366.4,795.2 1371.3,795.7 1376.3,796.1 1381.3,796.5 1386.3,796.9 1391.2,797.3 1396.2,797.7 1401.2,798.1 1406.2,798.4 1411.1,798.8 1416.1,799.2 1421.1,799.6 1426.1,799.9 1431.1,800.3 1436.0,800.6 1441.0,801.0 1446.0,801.3 1451.0,801.6 1455.9,802.0 1460.9,802.3 1465.9,802.6 1470.9,802.9 1475.8,803.2 1480.8,803.5 1485.8,803.8 1490.8,804.1 1495.7,804.4 1500.7,804.7 1505.7,804.9 1510.7,805.2 1515.6,805.5 1520.6,805.8 1525.6,806.0 1530.6,806.3 1535.5,806.5 1540.5,806.8 1545.5,807.0"/>
<polyline points="301.5,756.5 306.5,754.6 311.5,752.3 316.4,749.5 321.4,746.0 326.4,741.7 331.4,736.6 336.3,731.0 341.3,725.4 346.3,720.5 351.3,716.4 356.2,712.9 361.2,709.8 366.2,707.2 371.2,704.8 376.1,702.7 381.1,700.7 386.1,698.9 391.1,697.1 396.0,695.5 401.0,694.0 406.0,692.6 411.0,691.3 415.9,690.0 420.9,688.9 425.9,687.8 430.9,686.8 435.9,685.8 440.8,684.9 445.8,684.1 450.8,683.3 455.8,682.6 460.7,682.0 465.7,681.4 470.7,680.8 475.7,680.3 480.6,679.9 485.6,679.5 490.6,679.1 495.6,678.8 500.5,678.5 505.5,678.3 510.5,678.1 515.5,677.9 520.4,677.8 525.4,677.7 530.4,677.7 535.4,677.7 540.3,677.7 545.3,677.7 550.3,677.8 555.3,678.0 560.3,678.1 565.2,678.3 570.2,678.5 575.2,678.7 580.2,679.0 585.1,679.3 590.1,679.6 595.1,680.0 600.1,680.3 605.0,680.7 610.0,681.1 615.0,681.6 620.0,682.0 624.9,682.5 629.9,683.0 634.9,683.5 639.9,684.1 644.8,684.6 649.8,685.2 654.8,685.8 659.8,686.4 664.7,687.1 669.7,687.7 674.7,688.4 679.7,689.1 684.7,689.8 689.6,690.5 694.6,691.2 699.6,692.0 704.6,692.7 709.5,693.5 714.5,694.3 719.5,695.1 724.5,695.9 729.4,696.7 734.4,697.5 739.4,698.4 744.4,699.2 749.3,700.1 754.3,700.9 759.3,701.8 764.3,702.7 769.2,703.6 774.2,704.5 779.2,705.4 784.2,706.3 789.1,707.2 794.1,708.2 799.1,709.1 804.1,710.0 809.1,711.0 814.0,711.9 819.0,712.9 824.0,713.8 829.0,714.8 833.9,715.7 838.9,716.7 843.9,717.7 848.9,718.6 853.8,719.6 858.8,720.6 863.8,721.5 868.8,722.5 873.7,723.5 878.7,724.5 883.7,725.4 888.7,726.4 893.6,727.4 898.6,728.3 903.6,729.3 908.6,730.3 913.5,731.2 918.5,732.2 923.5,733.2 928.5,734.1 933.5,735.1 938.4,736.0 943.4,737.0 948.4,737.9 953.4,738.9 958.3,739.8 963.3,740.8 968.3,741.7 973.3,742.6 978.2,743.6 983.2,744.5 988.2,745.4 993.2,746.3 998.1,747.2 1003.1,748.1 1008.1,749.0 1013.1,749.9 1018.0,750.8 1023.0,751.7 1028.0,752.6 1033.0,753.4 1037.9,754.3 1042.9,755.2 1047.9,756.0 1052.9,756.8 1057.9,757.7 1062.8,758.5 1067.8,759.3 1072.8,760.2 1077.8,761.0 1082.7,761.8 1087.7,762.6 1092.7,763.4 1097.7,764.2 1102.6,764.9 1107.6,765.7 1112.6,766.5 1117.6,767.2 1122.5,768.0 1127.5,768.7 1132.5,769.5 1137.5,770.2 1142.4,770.9 1147.4,771.6 1152.4,772.3 1157.4,773.0 1162.3,773.7 1167.3,774.4 1172.3,775.1 1177.3,775.7 1182.3,776.4 1187.2,777.1 1192.2,777.7 1197.2,778.3 1202.2,779.0 1207.1,779.6 1212.1,780.2 1217.1,780.8 1222.1,781.4 1227.0,782.0 1232.0,782.6 1237.0,783.2 1242.0,783.8 1246.9,784.4 1251.9,784.9 1256.9,785.5 1261.9,786.0 1266.8,786.6 1271.8,787.1 1276.8,787.6 1281.8,788.1 1286.7,788.7 1291.7,789.2 1296.7,789.7 1301.7,790.2 1306.7,790.6 1311.6,791.1 1316.6,791.6 1321.6,792.1 1326.6,792.5 1331.5,793.0 1336.5,793.4 1341.5,793.9 1346.5,794.3 1351.4,794.7 1356.4,795.2 1361.4,795.6 1366.4,796.0 1371.3,796.4 1376.3,796.8 1381.3,797.2 1386.3,797.6 1391.2,798.0 1396.2,798.3 1401.2,798.7 1406.2,799.1 1411.1,799.4 1416.1,799.8 1421.1,800.1 1426.1,800.5 1431.1,800.8 1436.0,801.2 1441.0,801.5 1446.0,801.8 1451.0,802.1 1455.9,802.4 1460.9,802.8 1465.9,803.1 1470.9,803.4 1475.8,803.7 1480.8,804.0 1485.8,804.2 1490.8,804.5 1495.7,804.8 1500.7,805.1 1505.7,805.3 1510.7,805.6 1515.6,805.9 1520.6,806.1 1525.6,806.4 1530.6,806.6 1535.5,806.9 1540.5,807.1 1545.5,807.3"/>
<polyline points="301.5,814.2 306.5,813.5 311.5,812.7 316.4,811.7 321.4,810.7 326.4,809.6 331.4,808.4 336.3,807.0 341.3,805.4 346.3,803.7 351.3,801.7 356.2,799.5 361.2,796.9 366.2,794.0 371.2,790.5 376.1,786.4 381.1,781.7 386.1,776.3 391.1,770.6 396.0,765.0 401.0,759.8 406.0,755.1 411.0,751.0 415.9,747.3 420.9,744.0 425.9,741.0 430.9,738.1 435.9,735.5 440.8,733.1 445.8,730.8 450.8,728.7 455.8,726.7 460.7,724.8 465.7,723.0 470.7,721.4 475.7,719.8 480.6,718.3 485.6,716.9 490.6,715.6 495.6,714.3 500.5,713.2 505.5,712.1 510.5,711.1 515.5,710.1 520.4,709.2 525.4,708.4 530.4,707.6 535.4,706.9 540.3,706.2 545.3,705.6 550.3,705.1 555.3,704.6 560.3,704.1 565.2,703.7 570.2,703.3 575.2,703.0 580.2,702.7 585.1,702.5 590.1,702.3 595.1,702.1 600.1,702.0 605.0,701.9 610.0,701.8 615.0,701.8 620.0,701.8 624.9,701.9 629.9,702.0 634.9,702.1 639.9,702.2 644.8,702.4 649.8,702.6 654.8,702.8 659.8,703.0 664.7,703.3 669.7,703.6 674.7,703.9 679.7,704.3 684.7,704.7 689.6,705.0 694.6,705.5 699.6,705.9 704.6,706.4 709.5,706.8 714.5,707.3 719.5,707.8 724.5,708.4 729.4,708.9 734.4,709.5 739.4,710.1 744.4,710.6 749.3,711.3 754.3,711.9 759.3,712.5 764.3,713.2 769.2,713.8 774.2,714.5 779.2,715.2 784.2,715.9 789.1,716.6 794.1,717.3 799.1,718.1 804.1,718.8 809.1,719.6 814.0,720.3 819.0,721.1 824.0,721.8 829.0,722.6 833.9,723.4 838.9,724.2 843.9,725.0 848.9,725.8 853.8,726.6 858.8,727.4 863.8,728.3 868.8,729.1 873.7,729.9 878.7,730.7 883.7,731.6 888.7,732.4 893.6,733.3 898.6,734.1 903.6,734.9 908.6,735.8 913.5,736.6 918.5,737.5 923.5,738.3 928.5,739.2 933.5,740.0 938.4,740.9 943.4,741.7 948.4,742.6 953.4,743.4 958.3,744.2 963.3,745.1 968.3,745.9 973.3,746.8 978.2,747.6 983.2,748.4 988.2,749.3 993.2,750.1 998.1,750.9 1003.1,751.7 1008.1,752.5 1013.1,753.4 1018.0,754.2 1023.0,755.0 1028.0,755.8 1033.0,756.6 1037.9,757.4 1042.9,758.2 1047.9,758.9 1052.9,759.7 1057.9,760.5 1062.8,761.3 1067.8,762.0 1072.8,762.8 1077.8,763.5 1082.7,764.3 1087.7,765.0 1092.7,765.8 1097.7,766.5 1102.6,767.2 1107.6,767.9 1112.6,768.7 1117.6,769.4 1122.5,770.1 1127.5,770.8 1132.5,771.4 1137.5,772.1 1142.4,772.8 1147.4,773.5 1152.4,774.1 1157.4,774.8 1162.3,775.5 1167.3,776.1 1172.3,776.7 1177.3,777.4 1182.3,778.0 1187.2,778.6 1192.2,779.2 1197.2,779.8 1202.2,780.4 1207.1,781.0 1212.1,781.6 1217.1,782.2 1222.1,782.8 1227.0,783.3 1232.0,783.9 1237.0,784.4 1242.0,785.0 1246.9,785.5 1251.9,786.1 1256.9,786.6 1261.9,787.1 1266.8,787.6 1271.8,788.1 1276.8,788.6 1281.8,789.1 1286.7,789.6 1291.7,790.1 1296.7,790.6 1301.7,791.1 1306.7,791.5 1311.6,792.0 1316.6,792.4 1321.6,792.9 1326.6,793.3 1331.5,793.8 1336.5,794.2 1341.5,794.6 1346.5,795.0 1351.4,795.5 1356.4,795.9 1361.4,796.3 1366.4,796.7 1371.3,797.1 1376.3,797.4 1381.3,797.8 1386.3,798.2 1391.2,798.6 1396.2,798.9 1401.2,799.3 1406.2,799.6 1411.1,800.0 1416.1,800.3 1421.1,800.7 1426.1,801.0 1431.1,801.3 1436.0,801.7 1441.0,802.0 1446.0,802.3 1451.0,802.6 1455.9,802.9 1460.9,803.2 1465.9,803.5 1470.9,803.8 1475.8,804.1 1480.8,804.4 1485.8,804.6 1490.8,804.9 1495.7,805.2 1500.7,805.4 1505.7,805.7 1510.7,806.0 1515.6,806.2 1520.6,806.5 1525.6,806.7 1530.6,806.9 1535.5,807.2 1540.5,807.4 1545.5,807.6"/>
<polyline points="301.5,817.0 306.5,816.6 311.5,816.1 316.4,815.6 321.4,815.1 326.4,814.4 331.4,813.8 336.3,813.0 341.3,812.2 346.3,811.4 351.3,810.4 356.2,809.4 361.2,808.3 366.2,807.0 371.2,805.7 376.1,804.3 381.1,802.7 386.1,801.1 391.1,799.3 396.0,797.3 401.0,795.2 406.0,793.0 411.0,790.7 415.9,788.2 420.9,785.5 425.9,782.8 430.9,780.0 435.9,777.1 440.8,774.2 445.8,771.3 450.8,768.4 455.8,765.6 460.7,762.8 465.7,760.1 470.7,757.6 475.7,755.1 480.6,752.7 485.6,750.4 490.6,748.3 495.6,746.2 500.5,744.3 505.5,742.4 510.5,740.6 515.5,739.0 520.4,737.4 525.4,735.9 530.4,734.4 535.4,733.1 540.3,731.8 545.3,730.6 550.3,729.4 555.3,728.4 560.3,727.4 565.2,726.4 570.2,725.5 575.2,724.7 580.2,723.9 585.1,723.2 590.1,722.5 595.1,721.9 600.1,721.4 605.0,720.8 610.0,720.4 615.0,719.9 620.0,719.6 624.9,719.2 629.9,718.9 634.9,718.6 639.9,718.4 644.8,718.2 649.8,718.1 654.8,718.0 659.8,717.9 664.7,717.8 669.7,717.8 674.7,717.8 679.7,717.9 684.7,718.0 689.6,718.1 694.6,718.2 699.6,718.4 704.6,718.6 709.5,718.8 714.5,719.0 719.5,719.3 724.5,719.5 729.4,719.9 734.4,720.2 739.4,720.5 744.4,720.9 749.3,721.3 754.3,721.7 759.3,722.1 764.3,722.6 769.2,723.0 774.2,723.5 779.2,724.0 784.2,724.5 789.1,725.0 794.1,725.6 799.1,726.1 804.1,726.7 809.1,727.3 814.0,727.9 819.0,728.5 824.0,729.1 829.0,729.7 833.9,730.3 838.9,731.0 843.9,731.6 848.9,732.3 853.8,733.0 858.8,733.6 863.8,734.3 868.8,735.0 873.7,735.7 878.7,736.4 883.7,737.1 888.7,737.9 893.6,738.6 898.6,739.3 903.6,740.0 908.6,740.8 913.5,741.5 918.5,742.2 923.5,743.0 928.5,743.7 933.5,744.5 938.4,745.2 943.4,746.0 948.4,746.7 953.4,747.5 958.3,748.2 963.3,749.0 968.3,749.7 973.3,750.5 978.2,751.2 983.2,752.0 988.2,752.7 993.2,753.5 998.1,754.2 1003.1,755.0 1008.1,755.7 1013.1,756.5 1018.0,757.2 1023.0,758.0 1028.0,758.7 1033.0,759.4 1037.9,760.2 1042.9,760.9 1047.9,761.6 1052.9,762.3 1057.9,763.0 1062.8,763.7 1067.8,764.5 1072.8,765.2 1077.8,765.9 1082.7,766.6 1087.7,767.3 1092.7,767.9 1097.7,768.6 1102.6,769.3 1107.6,770.0 1112.6,770.6 1117.6,771.3 1122.5,772.0 1127.5,772.6 1132.5,773.3 1137.5,773.9 1142.4,774.5 1147.4,775.2 1152.4,775.8 1157.4,776.4 1162.3,777.0 1167.3,777.6 1172.3,778.2 1177.3,778.8 1182.3,779.4 1187.2,780.0 1192.2,780.6 1197.2,781.2 1202.2,781.7 1207.1,782.3 1212.1,782.9 1217.1,783.4 1222.1,784.0 1227.0,784.5 1232.0,785.0 1237.0,785.6 1242.0,786.1 1246.9,786.6 1251.9,787.1 1256.9,787.6 1261.9,788.1 1266.8,788.6 1271.8,789.1 1276.8,789.6 1281.8,790.1 1286.7,790.5 1291.7,791.0 1296.7,791.4 1301.7,791.9 1306.7,792.3 1311.6,792.8 1316.6,793.2 1321.6,793.7 1326.6,794.1 1331.5,794.5 1336.5,794.9 1341.5,795.3 1346.5,795.7 1351.4,796.1 1356.4,796.5 1361.4,796.9 1366.4,797.3 1371.3,797.7 1376.3,798.0 1381.3,798.4 1386.3,798.8 1391.2,799.1 1396.2,799.5 1401.2,799.8 1406.2,800.2 1411.1,800.5 1416.1,800.8 1421.1,801.1 1426.1,801.5 1431.1,801.8 1436.0,802.1 1441.0,802.4 1446.0,802.7 1451.0,803.0 1455.9,803.3 1460.9,803.6 1465.9,803.9 1470.9,804.2 1475.8,804.4 1480.8,804.7 1485.8,805.0 1490.8,805.3 1495.7,805.5 1500.7,805.8 1505.7,806.0 1510.7,806.3 1515.6,806.5 1520.6,806.8 1525.6,807.0 1530.6,807.2 1535.5,807.5 1540.5,807.7 1545.5,807.9"/>
<polyline points="301.5,818.5 306.5,818.2 311.5,817.9 316.4,817.6 321.4,817.2 326.4,816.9 331.4,816.4 336.3,816.0 341.3,815.5 346.3,814.9 351.3,814.4 356.2,813.7 361.2,813.0 366.2,812.3 371.2,811.4 376.1,810.6 381.1,809.6 386.1,808.6 391.1,807.5 396.0,806.4 401.0,805.1 406.0,803.8 411.0,802.4 415.9,800.9 420.9,799.4 425.9,797.7 430.9,796.0 435.9,794.2 440.8,792.3 445.8,790.4 450.8,788.4 455.8,786.3 460.7,784.2 465.7,782.1 470.7,780.0 475.7,777.8 480.6,775.6 485.6,773.5 490.6,771.3 495.6,769.2 500.5,767.2 505.5,765.2 510.5,763.2 515.5,761.3 520.4,759.4 525.4,757.6 530.4,755.9 535.4,754.2 540.3,752.6 545.3,751.0 550.3,749.6 555.3,748.1 560.3,746.8 565.2,745.5 570.2,744.2 575.2,743.1 580.2,741.9 585.1,740.9 590.1,739.9 595.1,738.9 600.1,738.0 605.0,737.2 610.0,736.4 615.0,735.6 620.0,734.9 624.9,734.3 629.9,733.7 634.9,733.1 639.9,732.6 644.8,732.1 649.8,731.7 654.8,731.3 659.8,731.0 664.7,730.7 669.7,730.4 674.7,730.1 679.7,729.9 684.7,729.8 689.6,729.6 694.6,729.5 699.6,729.5 704.6,729.4 709.5,729.4 714.5,729.4 719.5,729.5 724.5,729.5 729.4,729.6 734.4,729.8 739.4,729.9 744.4,730.1 749.3,730.3 754.3,730.5 759.3,730.8 764.3,731.0 769.2,731.3 774.2,731.6 779.2,731.9 784.2,732.3 789.1,732.6 794.1,733.0 799.1,733.4 804.1,733.8 809.1,734.3 814.0,734.7 819.0,735.2 824.0,735.6 829.0,736.1 833.9,736.6 838.9,737.1 843.9,737.6 848.9,738.2 853.8,738.7 858.8,739.3 863.8,739.8 868.8,740.4 873.7,741.0 878.7,741.6 883.7,742.2 888.7,742.8 893.6,743.4 898.6,744.0 903.6,744.7 908.6,745.3 913.5,745.9 918.5,746.6 923.5,747.2 928.5,747.9 933.5,748.5 938.4,749.2 943.4,749.9 948.4,750.5 953.4,751.2 958.3,751.9 963.3,752.5 968.3,753.2 973.3,753.9 978.2,754.6 983.2,755.2 988.2,755.9 993.2,756.6 998.1,757.3 1003.1,758.0 1008.1,758.6 1013.1,759.3 1018.0,760.0 1023.0,760.7 1028.0,761.3 1033.0,762.0 1037.9,762.7 1042.9,763.4 1047.9,764.0 1052.9,764.7 1057.9,765.4 1062.8,766.0 1067.8,766.7 1072.8,767.3 1077.8,768.0 1082.7,768.6 1087.7,769.3 1092.7,769.9 1097.7,770.6 1102.6,771.2 1107.6,771.8 1112.6,772.5 1117.6,773.1 1122.5,773.7 1127.5,774.3 1132.5,774.9 1137.5,775.5 1142.4,776.1 1147.4,776.7 1152.4,777.3 1157.4,777.9 1162.3,778.5 1167.3,779.1 1172.3,779.6 1177.3,780.2 1182.3,780.8 1187.2,781.3 1192.2,781.9 1197.2,782.4 1202.2,783.0 1207.1,783.5 1212.1,784.0 1217.1,784.5 1222.1,785.1 1227.0,785.6 1232.0,786.1 1237.0,786.6 1242.0,787.1 1246.9,787.6 1251.9,788.1 1256.9,788.6 1261.9,789.0 1266.8,789.5 1271.8,790.0 1276.8,790.4 1281.8,790.9 1286.7,791.3 1291.7,791.8 1296.7,792.2 1301.7,792.7 1306.7,793.1 1311.6,793.5 1316.6,793.9 1321.6,794.4 1326.6,794.8 1331.5,795.2 1336.5,795.6 1341.5,796.0 1346.5,796.3 1351.4,796.7 1356.4,797.1 1361.4,797.5 1366.4,797.8 1371.3,798.2 1376.3,798.6 1381.3,798.9 1386.3,799.3 1391.2,799.6 1396.2,800.0 1401.2,800.3 1406.2,800.6 1411.1,801.0 1416.1,801.3 1421.1,801.6 1426.1,801.9 1431.1,802.2 1436.0,802.5 1441.0,802.8 1446.0,803.1 1451.0,803.4 1455.9,803.7 1460.9,804.0 1465.9,804.2 1470.9,804.5 1475.8,804.8 1480.8,805.1 1485.8,805.3 1490.8,805.6 1495.7,805.8 1500.7,806.1 1505.7,806.3 1510.7,806.6 1515.6,806.8 1520.6,807.0 1525.6,807.3 1530.6,807.5 1535.5,807.7 1540.5,807.9 1545.5,808.2"/>
</g>
<g fill="none" stroke="#000" stroke-width="5.3" stroke-linejoin="round" stroke-linecap="butt" shape-rendering="crispEdges" clip-path="url(#cb)">
<polyline points="301.5,923.1 306.5,926.1 311.5,929.1 316.4,932.1 321.4,935.2 326.4,938.3 331.4,941.4 336.3,944.5 341.3,947.7 346.3,950.9 351.3,954.1 356.2,957.4 361.2,960.6 366.2,963.9 371.2,967.2 376.1,970.6 381.1,973.9 386.1,977.3 391.1,980.7 396.0,984.2 401.0,987.6 406.0,991.1 411.0,994.6 415.9,998.2 420.9,1001.7 425.9,1005.3 430.9,1008.9 435.9,1012.5 440.8,1016.1 445.8,1019.8 450.8,1023.4 455.8,1027.1 460.7,1030.8 465.7,1034.6 470.7,1038.3 475.7,1042.1 480.6,1045.8 485.6,1049.6 490.6,1053.5 495.6,1057.3 500.5,1061.1 505.5,1065.0 510.5,1068.9 515.5,1072.8 520.4,1076.7 525.4,1080.6 530.4,1084.5 535.4,1088.5 540.3,1092.4 545.3,1096.4 550.3,1100.4 555.3,1104.3 560.3,1108.3 565.2,1112.3 570.2,1116.3 575.2,1120.4 580.2,1124.4 585.1,1128.4 590.1,1132.5 595.1,1136.5 600.1,1140.6 605.0,1144.6 610.0,1148.7 615.0,1152.7 620.0,1156.8 624.9,1160.8 629.9,1164.9 634.9,1169.0 639.9,1173.0 644.8,1177.1 649.8,1181.2 654.8,1185.2 659.8,1189.3 664.7,1193.3 669.7,1197.4 674.7,1201.4 679.7,1205.5 684.7,1209.5 689.6,1213.5 694.6,1217.5 699.6,1221.5 704.6,1225.5 709.5,1229.5 714.5,1233.5 719.5,1237.5 724.5,1241.5 729.4,1245.4 734.4,1249.4 739.4,1253.3 744.4,1257.2 749.3,1261.1 754.3,1265.0 759.3,1268.9 764.3,1272.7 769.2,1276.6 774.2,1280.4 779.2,1284.2 784.2,1288.0 789.1,1291.8 794.1,1295.5 799.1,1299.3 804.1,1303.0 809.1,1306.7 814.0,1310.4 819.0,1314.0 824.0,1317.7 829.0,1321.3 833.9,1324.9 838.9,1328.4 843.9,1332.0 848.9,1335.5 853.8,1339.0 858.8,1342.5 863.8,1346.0 868.8,1349.4 873.7,1352.8 878.7,1356.2 883.7,1359.5 888.7,1362.9 893.6,1366.2 898.6,1369.5 903.6,1372.7 908.6,1376.0 913.5,1379.2 918.5,1382.3 923.5,1385.5 928.5,1388.6 933.5,1391.7 938.4,1394.8 943.4,1397.8 948.4,1400.8 953.4,1403.8 958.3,1406.8 963.3,1409.7 968.3,1412.6 973.3,1415.5 978.2,1418.3 983.2,1421.1 988.2,1423.9 993.2,1426.7 998.1,1429.4 1003.1,1432.1 1008.1,1434.8 1013.1,1437.5 1018.0,1440.1 1023.0,1442.7 1028.0,1445.2 1033.0,1447.8 1037.9,1450.3 1042.9,1452.7 1047.9,1455.2 1052.9,1457.6 1057.9,1460.0 1062.8,1462.4 1067.8,1464.7 1072.8,1467.0 1077.8,1469.3 1082.7,1471.5 1087.7,1473.8 1092.7,1475.9 1097.7,1478.1 1102.6,1480.3 1107.6,1482.4 1112.6,1484.5 1117.6,1486.5 1122.5,1488.5 1127.5,1490.6 1132.5,1492.5 1137.5,1494.5 1142.4,1496.4 1147.4,1498.3 1152.4,1500.2 1157.4,1502.0 1162.3,1503.9 1167.3,1505.7 1172.3,1507.4 1177.3,1509.2 1182.3,1510.9 1187.2,1512.6 1192.2,1514.3 1197.2,1515.9 1202.2,1517.5 1207.1,1519.1 1212.1,1520.7 1217.1,1522.3 1222.1,1523.8 1227.0,1525.3 1232.0,1526.8 1237.0,1528.2 1242.0,1529.7 1246.9,1531.1 1251.9,1532.5 1256.9,1533.8 1261.9,1535.2 1266.8,1536.5 1271.8,1537.8 1276.8,1539.1 1281.8,1540.4 1286.7,1541.6 1291.7,1542.8 1296.7,1544.0 1301.7,1545.2 1306.7,1546.4 1311.6,1547.5 1316.6,1548.6 1321.6,1549.7 1326.6,1550.8 1331.5,1551.9 1336.5,1552.9 1341.5,1553.9 1346.5,1554.9 1351.4,1555.9 1356.4,1556.9 1361.4,1557.9 1366.4,1558.8 1371.3,1559.7 1376.3,1560.6 1381.3,1561.5 1386.3,1562.4 1391.2,1563.3 1396.2,1564.1 1401.2,1564.9 1406.2,1565.7 1411.1,1566.5 1416.1,1567.3 1421.1,1568.1 1426.1,1568.8 1431.1,1569.6 1436.0,1570.3 1441.0,1571.0 1446.0,1571.7 1451.0,1572.4 1455.9,1573.1 1460.9,1573.7 1465.9,1574.4 1470.9,1575.0 1475.8,1575.6 1480.8,1576.3 1485.8,1576.9 1490.8,1577.5 1495.7,1578.0 1500.7,1578.6 1505.7,1579.2 1510.7,1579.7 1515.6,1580.2 1520.6,1580.8 1525.6,1581.3 1530.6,1581.8 1535.5,1582.3 1540.5,1582.8 1545.5,1583.2"/>
<polyline points="301.5,950.2 306.5,953.1 311.5,956.1 316.4,959.1 321.4,962.1 326.4,965.2 331.4,968.3 336.3,971.4 341.3,974.5 346.3,977.6 351.3,980.8 356.2,984.0 361.2,987.3 366.2,990.5 371.2,993.8 376.1,997.1 381.1,1000.5 386.1,1003.8 391.1,1007.2 396.0,1010.6 401.0,1014.0 406.0,1017.5 411.0,1020.9 415.9,1024.4 420.9,1027.9 425.9,1031.5 430.9,1035.0 435.9,1038.6 440.8,1042.2 445.8,1045.8 450.8,1049.5 455.8,1053.1 460.7,1056.8 465.7,1060.5 470.7,1064.2 475.7,1067.9 480.6,1071.7 485.6,1075.5 490.6,1079.2 495.6,1083.0 500.5,1086.8 505.5,1090.7 510.5,1094.5 515.5,1098.4 520.4,1102.2 525.4,1106.1 530.4,1110.0 535.4,1113.9 540.3,1117.9 545.3,1121.8 550.3,1125.7 555.3,1129.7 560.3,1133.6 565.2,1137.6 570.2,1141.6 575.2,1145.6 580.2,1149.5 585.1,1153.5 590.1,1157.5 595.1,1161.5 600.1,1165.6 605.0,1169.6 610.0,1173.6 615.0,1177.6 620.0,1181.6 624.9,1185.6 629.9,1189.7 634.9,1193.7 639.9,1197.7 644.8,1201.7 649.8,1205.7 654.8,1209.8 659.8,1213.8 664.7,1217.8 669.7,1221.8 674.7,1225.8 679.7,1229.8 684.7,1233.8 689.6,1237.7 694.6,1241.7 699.6,1245.7 704.6,1249.6 709.5,1253.6 714.5,1257.5 719.5,1261.4 724.5,1265.3 729.4,1269.2 734.4,1273.1 739.4,1277.0 744.4,1280.8 749.3,1284.7 754.3,1288.5 759.3,1292.3 764.3,1296.1 769.2,1299.9 774.2,1303.7 779.2,1307.4 784.2,1311.1 789.1,1314.9 794.1,1318.5 799.1,1322.2 804.1,1325.9 809.1,1329.5 814.0,1333.1 819.0,1336.7 824.0,1340.2 829.0,1343.8 833.9,1347.3 838.9,1350.8 843.9,1354.3 848.9,1357.7 853.8,1361.1 858.8,1364.5 863.8,1367.9 868.8,1371.3 873.7,1374.6 878.7,1377.9 883.7,1381.1 888.7,1384.4 893.6,1387.6 898.6,1390.8 903.6,1393.9 908.6,1397.0 913.5,1400.1 918.5,1403.2 923.5,1406.3 928.5,1409.3 933.5,1412.3 938.4,1415.2 943.4,1418.1 948.4,1421.0 953.4,1423.9 958.3,1426.7 963.3,1429.6 968.3,1432.3 973.3,1435.1 978.2,1437.8 983.2,1440.5 988.2,1443.1 993.2,1445.8 998.1,1448.3 1003.1,1450.9 1008.1,1453.4 1013.1,1455.9 1018.0,1458.4 1023.0,1460.9 1028.0,1463.3 1033.0,1465.7 1037.9,1468.0 1042.9,1470.3 1047.9,1472.6 1052.9,1474.9 1057.9,1477.1 1062.8,1479.3 1067.8,1481.5 1072.8,1483.6 1077.8,1485.7 1082.7,1487.8 1087.7,1489.9 1092.7,1491.9 1097.7,1493.9 1102.6,1495.8 1107.6,1497.8 1112.6,1499.7 1117.6,1501.6 1122.5,1503.4 1127.5,1505.2 1132.5,1507.0 1137.5,1508.8 1142.4,1510.5 1147.4,1512.2 1152.4,1513.9 1157.4,1515.6 1162.3,1517.2 1167.3,1518.8 1172.3,1520.4 1177.3,1522.0 1182.3,1523.5 1187.2,1525.0 1192.2,1526.5 1197.2,1528.0 1202.2,1529.4 1207.1,1530.8 1212.1,1532.2 1217.1,1533.6 1222.1,1534.9 1227.0,1536.2 1232.0,1537.5 1237.0,1538.8 1242.0,1540.1 1246.9,1541.3 1251.9,1542.5 1256.9,1543.7 1261.9,1544.9 1266.8,1546.0 1271.8,1547.2 1276.8,1548.3 1281.8,1549.4 1286.7,1550.4 1291.7,1551.5 1296.7,1552.5 1301.7,1553.5 1306.7,1554.5 1311.6,1555.5 1316.6,1556.5 1321.6,1557.4 1326.6,1558.4 1331.5,1559.3 1336.5,1560.2 1341.5,1561.1 1346.5,1561.9 1351.4,1562.8 1356.4,1563.6 1361.4,1564.4 1366.4,1565.2 1371.3,1566.0 1376.3,1566.8 1381.3,1567.6 1386.3,1568.3 1391.2,1569.1 1396.2,1569.8 1401.2,1570.5 1406.2,1571.2 1411.1,1571.9 1416.1,1572.5 1421.1,1573.2 1426.1,1573.8 1431.1,1574.5 1436.0,1575.1 1441.0,1575.7 1446.0,1576.3 1451.0,1576.9 1455.9,1577.5 1460.9,1578.0 1465.9,1578.6 1470.9,1579.1 1475.8,1579.7 1480.8,1580.2 1485.8,1580.7 1490.8,1581.2 1495.7,1581.7 1500.7,1582.2 1505.7,1582.7 1510.7,1583.1 1515.6,1583.6 1520.6,1584.0 1525.6,1584.5 1530.6,1584.9 1535.5,1585.3 1540.5,1585.8 1545.5,1586.2"/>
<polyline points="301.5,978.9 306.5,981.7 311.5,984.6 316.4,987.6 321.4,990.5 326.4,993.5 331.4,996.5 336.3,999.6 341.3,1002.6 346.3,1005.7 351.3,1008.8 356.2,1012.0 361.2,1015.1 366.2,1018.3 371.2,1021.5 376.1,1024.8 381.1,1028.0 386.1,1031.3 391.1,1034.6 396.0,1038.0 401.0,1041.3 406.0,1044.7 411.0,1048.1 415.9,1051.5 420.9,1055.0 425.9,1058.5 430.9,1062.0 435.9,1065.5 440.8,1069.0 445.8,1072.6 450.8,1076.1 455.8,1079.7 460.7,1083.3 465.7,1087.0 470.7,1090.6 475.7,1094.3 480.6,1098.0 485.6,1101.7 490.6,1105.4 495.6,1109.1 500.5,1112.8 505.5,1116.6 510.5,1120.4 515.5,1124.2 520.4,1128.0 525.4,1131.8 530.4,1135.6 535.4,1139.5 540.3,1143.3 545.3,1147.2 550.3,1151.0 555.3,1154.9 560.3,1158.8 565.2,1162.7 570.2,1166.6 575.2,1170.5 580.2,1174.4 585.1,1178.3 590.1,1182.3 595.1,1186.2 600.1,1190.1 605.0,1194.1 610.0,1198.0 615.0,1201.9 620.0,1205.9 624.9,1209.8 629.9,1213.8 634.9,1217.7 639.9,1221.6 644.8,1225.6 649.8,1229.5 654.8,1233.4 659.8,1237.4 664.7,1241.3 669.7,1245.2 674.7,1249.1 679.7,1253.0 684.7,1256.9 689.6,1260.8 694.6,1264.7 699.6,1268.5 704.6,1272.4 709.5,1276.2 714.5,1280.0 719.5,1283.9 724.5,1287.7 729.4,1291.5 734.4,1295.2 739.4,1299.0 744.4,1302.8 749.3,1306.5 754.3,1310.2 759.3,1313.9 764.3,1317.6 769.2,1321.3 774.2,1324.9 779.2,1328.5 784.2,1332.1 789.1,1335.7 794.1,1339.3 799.1,1342.8 804.1,1346.3 809.1,1349.8 814.0,1353.3 819.0,1356.8 824.0,1360.2 829.0,1363.6 833.9,1367.0 838.9,1370.3 843.9,1373.6 848.9,1376.9 853.8,1380.2 858.8,1383.4 863.8,1386.7 868.8,1389.9 873.7,1393.0 878.7,1396.1 883.7,1399.3 888.7,1402.3 893.6,1405.4 898.6,1408.4 903.6,1411.4 908.6,1414.3 913.5,1417.3 918.5,1420.2 923.5,1423.0 928.5,1425.9 933.5,1428.7 938.4,1431.5 943.4,1434.2 948.4,1436.9 953.4,1439.6 958.3,1442.3 963.3,1444.9 968.3,1447.5 973.3,1450.0 978.2,1452.6 983.2,1455.1 988.2,1457.5 993.2,1460.0 998.1,1462.4 1003.1,1464.7 1008.1,1467.1 1013.1,1469.4 1018.0,1471.7 1023.0,1473.9 1028.0,1476.1 1033.0,1478.3 1037.9,1480.5 1042.9,1482.6 1047.9,1484.7 1052.9,1486.8 1057.9,1488.8 1062.8,1490.8 1067.8,1492.8 1072.8,1494.8 1077.8,1496.7 1082.7,1498.6 1087.7,1500.5 1092.7,1502.3 1097.7,1504.1 1102.6,1505.9 1107.6,1507.7 1112.6,1509.4 1117.6,1511.1 1122.5,1512.8 1127.5,1514.4 1132.5,1516.0 1137.5,1517.6 1142.4,1519.2 1147.4,1520.8 1152.4,1522.3 1157.4,1523.8 1162.3,1525.3 1167.3,1526.7 1172.3,1528.2 1177.3,1529.6 1182.3,1530.9 1187.2,1532.3 1192.2,1533.6 1197.2,1535.0 1202.2,1536.3 1207.1,1537.5 1212.1,1538.8 1217.1,1540.0 1222.1,1541.2 1227.0,1542.4 1232.0,1543.6 1237.0,1544.7 1242.0,1545.9 1246.9,1547.0 1251.9,1548.1 1256.9,1549.1 1261.9,1550.2 1266.8,1551.2 1271.8,1552.3 1276.8,1553.3 1281.8,1554.2 1286.7,1555.2 1291.7,1556.2 1296.7,1557.1 1301.7,1558.0 1306.7,1558.9 1311.6,1559.8 1316.6,1560.7 1321.6,1561.5 1326.6,1562.4 1331.5,1563.2 1336.5,1564.0 1341.5,1564.8 1346.5,1565.6 1351.4,1566.4 1356.4,1567.1 1361.4,1567.9 1366.4,1568.6 1371.3,1569.3 1376.3,1570.0 1381.3,1570.7 1386.3,1571.4 1391.2,1572.1 1396.2,1572.7 1401.2,1573.3 1406.2,1574.0 1411.1,1574.6 1416.1,1575.2 1421.1,1575.8 1426.1,1576.4 1431.1,1577.0 1436.0,1577.5 1441.0,1578.1 1446.0,1578.6 1451.0,1579.2 1455.9,1579.7 1460.9,1580.2 1465.9,1580.7 1470.9,1581.2 1475.8,1581.7 1480.8,1582.2 1485.8,1582.6 1490.8,1583.1 1495.7,1583.6 1500.7,1584.0 1505.7,1584.4 1510.7,1584.9 1515.6,1585.3 1520.6,1585.7 1525.6,1586.1 1530.6,1586.5 1535.5,1586.9 1540.5,1587.3 1545.5,1587.7"/>
<polyline points="301.5,1009.3 306.5,1012.1 311.5,1014.8 316.4,1017.7 321.4,1020.5 326.4,1023.4 331.4,1026.3 336.3,1029.2 341.3,1032.2 346.3,1035.2 351.3,1038.2 356.2,1041.2 361.2,1044.3 366.2,1047.4 371.2,1050.5 376.1,1053.6 381.1,1056.8 386.1,1060.0 391.1,1063.2 396.0,1066.4 401.0,1069.7 406.0,1072.9 411.0,1076.2 415.9,1079.6 420.9,1082.9 425.9,1086.3 430.9,1089.7 435.9,1093.1 440.8,1096.5 445.8,1100.0 450.8,1103.4 455.8,1106.9 460.7,1110.4 465.7,1114.0 470.7,1117.5 475.7,1121.1 480.6,1124.7 485.6,1128.3 490.6,1131.9 495.6,1135.5 500.5,1139.2 505.5,1142.8 510.5,1146.5 515.5,1150.2 520.4,1153.9 525.4,1157.6 530.4,1161.3 535.4,1165.0 540.3,1168.8 545.3,1172.5 550.3,1176.3 555.3,1180.1 560.3,1183.8 565.2,1187.6 570.2,1191.4 575.2,1195.2 580.2,1199.0 585.1,1202.8 590.1,1206.6 595.1,1210.5 600.1,1214.3 605.0,1218.1 610.0,1221.9 615.0,1225.7 620.0,1229.6 624.9,1233.4 629.9,1237.2 634.9,1241.0 639.9,1244.8 644.8,1248.6 649.8,1252.4 654.8,1256.2 659.8,1260.0 664.7,1263.8 669.7,1267.6 674.7,1271.4 679.7,1275.2 684.7,1278.9 689.6,1282.7 694.6,1286.4 699.6,1290.1 704.6,1293.8 709.5,1297.5 714.5,1301.2 719.5,1304.9 724.5,1308.5 729.4,1312.2 734.4,1315.8 739.4,1319.4 744.4,1323.0 749.3,1326.6 754.3,1330.2 759.3,1333.7 764.3,1337.2 769.2,1340.7 774.2,1344.2 779.2,1347.6 784.2,1351.1 789.1,1354.5 794.1,1357.9 799.1,1361.2 804.1,1364.6 809.1,1367.9 814.0,1371.2 819.0,1374.5 824.0,1377.7 829.0,1380.9 833.9,1384.1 838.9,1387.3 843.9,1390.4 848.9,1393.5 853.8,1396.6 858.8,1399.7 863.8,1402.7 868.8,1405.7 873.7,1408.7 878.7,1411.6 883.7,1414.5 888.7,1417.4 893.6,1420.2 898.6,1423.1 903.6,1425.9 908.6,1428.6 913.5,1431.3 918.5,1434.0 923.5,1436.7 928.5,1439.4 933.5,1442.0 938.4,1444.5 943.4,1447.1 948.4,1449.6 953.4,1452.1 958.3,1454.6 963.3,1457.0 968.3,1459.4 973.3,1461.7 978.2,1464.1 983.2,1466.4 988.2,1468.7 993.2,1470.9 998.1,1473.1 1003.1,1475.3 1008.1,1477.5 1013.1,1479.6 1018.0,1481.7 1023.0,1483.8 1028.0,1485.8 1033.0,1487.8 1037.9,1489.8 1042.9,1491.8 1047.9,1493.7 1052.9,1495.6 1057.9,1497.5 1062.8,1499.3 1067.8,1501.1 1072.8,1502.9 1077.8,1504.7 1082.7,1506.4 1087.7,1508.1 1092.7,1509.8 1097.7,1511.5 1102.6,1513.1 1107.6,1514.7 1112.6,1516.3 1117.6,1517.9 1122.5,1519.4 1127.5,1520.9 1132.5,1522.4 1137.5,1523.9 1142.4,1525.3 1147.4,1526.8 1152.4,1528.2 1157.4,1529.5 1162.3,1530.9 1167.3,1532.2 1172.3,1533.5 1177.3,1534.8 1182.3,1536.1 1187.2,1537.3 1192.2,1538.6 1197.2,1539.8 1202.2,1541.0 1207.1,1542.1 1212.1,1543.3 1217.1,1544.4 1222.1,1545.5 1227.0,1546.6 1232.0,1547.7 1237.0,1548.8 1242.0,1549.8 1246.9,1550.9 1251.9,1551.9 1256.9,1552.8 1261.9,1553.8 1266.8,1554.8 1271.8,1555.7 1276.8,1556.6 1281.8,1557.6 1286.7,1558.5 1291.7,1559.3 1296.7,1560.2 1301.7,1561.0 1306.7,1561.9 1311.6,1562.7 1316.6,1563.5 1321.6,1564.3 1326.6,1565.1 1331.5,1565.8 1336.5,1566.6 1341.5,1567.3 1346.5,1568.1 1351.4,1568.8 1356.4,1569.5 1361.4,1570.2 1366.4,1570.8 1371.3,1571.5 1376.3,1572.2 1381.3,1572.8 1386.3,1573.4 1391.2,1574.1 1396.2,1574.7 1401.2,1575.3 1406.2,1575.9 1411.1,1576.4 1416.1,1577.0 1421.1,1577.6 1426.1,1578.1 1431.1,1578.6 1436.0,1579.2 1441.0,1579.7 1446.0,1580.2 1451.0,1580.7 1455.9,1581.2 1460.9,1581.7 1465.9,1582.1 1470.9,1582.6 1475.8,1583.1 1480.8,1583.5 1485.8,1583.9 1490.8,1584.4 1495.7,1584.8 1500.7,1585.2 1505.7,1585.6 1510.7,1586.0 1515.6,1586.4 1520.6,1586.8 1525.6,1587.2 1530.6,1587.6 1535.5,1587.9 1540.5,1588.3 1545.5,1588.6"/>
<polyline points="301.5,1041.5 306.5,1044.1 311.5,1046.7 316.4,1049.4 321.4,1052.1 326.4,1054.8 331.4,1057.6 336.3,1060.4 341.3,1063.2 346.3,1066.0 351.3,1068.9 356.2,1071.8 361.2,1074.7 366.2,1077.6 371.2,1080.6 376.1,1083.6 381.1,1086.6 386.1,1089.7 391.1,1092.8 396.0,1095.9 401.0,1099.0 406.0,1102.1 411.0,1105.3 415.9,1108.5 420.9,1111.7 425.9,1114.9 430.9,1118.2 435.9,1121.4 440.8,1124.7 445.8,1128.1 450.8,1131.4 455.8,1134.8 460.7,1138.1 465.7,1141.5 470.7,1144.9 475.7,1148.4 480.6,1151.8 485.6,1155.3 490.6,1158.7 495.6,1162.2 500.5,1165.7 505.5,1169.3 510.5,1172.8 515.5,1176.3 520.4,1179.9 525.4,1183.5 530.4,1187.1 535.4,1190.6 540.3,1194.2 545.3,1197.9 550.3,1201.5 555.3,1205.1 560.3,1208.7 565.2,1212.4 570.2,1216.0 575.2,1219.7 580.2,1223.3 585.1,1227.0 590.1,1230.6 595.1,1234.3 600.1,1238.0 605.0,1241.6 610.0,1245.3 615.0,1249.0 620.0,1252.6 624.9,1256.3 629.9,1260.0 634.9,1263.6 639.9,1267.3 644.8,1270.9 649.8,1274.6 654.8,1278.2 659.8,1281.8 664.7,1285.4 669.7,1289.0 674.7,1292.6 679.7,1296.2 684.7,1299.8 689.6,1303.4 694.6,1306.9 699.6,1310.5 704.6,1314.0 709.5,1317.5 714.5,1321.0 719.5,1324.5 724.5,1328.0 729.4,1331.4 734.4,1334.9 739.4,1338.3 744.4,1341.7 749.3,1345.1 754.3,1348.4 759.3,1351.8 764.3,1355.1 769.2,1358.4 774.2,1361.7 779.2,1364.9 784.2,1368.2 789.1,1371.4 794.1,1374.6 799.1,1377.7 804.1,1380.9 809.1,1384.0 814.0,1387.1 819.0,1390.1 824.0,1393.2 829.0,1396.2 833.9,1399.2 838.9,1402.1 843.9,1405.0 848.9,1407.9 853.8,1410.8 858.8,1413.7 863.8,1416.5 868.8,1419.3 873.7,1422.0 878.7,1424.8 883.7,1427.5 888.7,1430.1 893.6,1432.8 898.6,1435.4 903.6,1438.0 908.6,1440.6 913.5,1443.1 918.5,1445.6 923.5,1448.1 928.5,1450.5 933.5,1452.9 938.4,1455.3 943.4,1457.7 948.4,1460.0 953.4,1462.3 958.3,1464.6 963.3,1466.8 968.3,1469.0 973.3,1471.2 978.2,1473.4 983.2,1475.5 988.2,1477.6 993.2,1479.7 998.1,1481.7 1003.1,1483.7 1008.1,1485.7 1013.1,1487.7 1018.0,1489.6 1023.0,1491.5 1028.0,1493.4 1033.0,1495.3 1037.9,1497.1 1042.9,1498.9 1047.9,1500.7 1052.9,1502.5 1057.9,1504.2 1062.8,1505.9 1067.8,1507.6 1072.8,1509.2 1077.8,1510.9 1082.7,1512.5 1087.7,1514.1 1092.7,1515.6 1097.7,1517.2 1102.6,1518.7 1107.6,1520.2 1112.6,1521.6 1117.6,1523.1 1122.5,1524.5 1127.5,1525.9 1132.5,1527.3 1137.5,1528.7 1142.4,1530.0 1147.4,1531.3 1152.4,1532.6 1157.4,1533.9 1162.3,1535.2 1167.3,1536.4 1172.3,1537.6 1177.3,1538.8 1182.3,1540.0 1187.2,1541.2 1192.2,1542.3 1197.2,1543.5 1202.2,1544.6 1207.1,1545.7 1212.1,1546.7 1217.1,1547.8 1222.1,1548.8 1227.0,1549.8 1232.0,1550.9 1237.0,1551.8 1242.0,1552.8 1246.9,1553.8 1251.9,1554.7 1256.9,1555.6 1261.9,1556.6 1266.8,1557.5 1271.8,1558.3 1276.8,1559.2 1281.8,1560.1 1286.7,1560.9 1291.7,1561.7 1296.7,1562.5 1301.7,1563.3 1306.7,1564.1 1311.6,1564.9 1316.6,1565.6 1321.6,1566.4 1326.6,1567.1 1331.5,1567.8 1336.5,1568.5 1341.5,1569.2 1346.5,1569.9 1351.4,1570.6 1356.4,1571.3 1361.4,1571.9 1366.4,1572.5 1371.3,1573.2 1376.3,1573.8 1381.3,1574.4 1386.3,1575.0 1391.2,1575.6 1396.2,1576.1 1401.2,1576.7 1406.2,1577.3 1411.1,1577.8 1416.1,1578.3 1421.1,1578.9 1426.1,1579.4 1431.1,1579.9 1436.0,1580.4 1441.0,1580.9 1446.0,1581.4 1451.0,1581.8 1455.9,1582.3 1460.9,1582.8 1465.9,1583.2 1470.9,1583.7 1475.8,1584.1 1480.8,1584.5 1485.8,1584.9 1490.8,1585.3 1495.7,1585.7 1500.7,1586.1 1505.7,1586.5 1510.7,1586.9 1515.6,1587.3 1520.6,1587.6 1525.6,1588.0 1530.6,1588.4 1535.5,1588.7 1540.5,1589.0 1545.5,1589.4"/>
<polyline points="301.5,1075.5 306.5,1077.9 311.5,1080.4 316.4,1082.9 321.4,1085.4 326.4,1087.9 331.4,1090.5 336.3,1093.1 341.3,1095.7 346.3,1098.3 351.3,1101.0 356.2,1103.7 361.2,1106.5 366.2,1109.2 371.2,1112.0 376.1,1114.8 381.1,1117.7 386.1,1120.6 391.1,1123.4 396.0,1126.4 401.0,1129.3 406.0,1132.3 411.0,1135.3 415.9,1138.3 420.9,1141.3 425.9,1144.4 430.9,1147.5 435.9,1150.6 440.8,1153.7 445.8,1156.8 450.8,1160.0 455.8,1163.2 460.7,1166.4 465.7,1169.6 470.7,1172.8 475.7,1176.1 480.6,1179.4 485.6,1182.6 490.6,1185.9 495.6,1189.3 500.5,1192.6 505.5,1195.9 510.5,1199.3 515.5,1202.7 520.4,1206.0 525.4,1209.4 530.4,1212.8 535.4,1216.3 540.3,1219.7 545.3,1223.1 550.3,1226.5 555.3,1230.0 560.3,1233.4 565.2,1236.9 570.2,1240.4 575.2,1243.8 580.2,1247.3 585.1,1250.8 590.1,1254.2 595.1,1257.7 600.1,1261.2 605.0,1264.7 610.0,1268.1 615.0,1271.6 620.0,1275.1 624.9,1278.5 629.9,1282.0 634.9,1285.5 639.9,1288.9 644.8,1292.3 649.8,1295.8 654.8,1299.2 659.8,1302.6 664.7,1306.1 669.7,1309.5 674.7,1312.9 679.7,1316.2 684.7,1319.6 689.6,1323.0 694.6,1326.3 699.6,1329.6 704.6,1333.0 709.5,1336.3 714.5,1339.5 719.5,1342.8 724.5,1346.1 729.4,1349.3 734.4,1352.5 739.4,1355.7 744.4,1358.9 749.3,1362.1 754.3,1365.2 759.3,1368.3 764.3,1371.4 769.2,1374.5 774.2,1377.6 779.2,1380.6 784.2,1383.6 789.1,1386.6 794.1,1389.6 799.1,1392.5 804.1,1395.4 809.1,1398.3 814.0,1401.2 819.0,1404.0 824.0,1406.8 829.0,1409.6 833.9,1412.4 838.9,1415.1 843.9,1417.8 848.9,1420.5 853.8,1423.2 858.8,1425.8 863.8,1428.4 868.8,1431.0 873.7,1433.6 878.7,1436.1 883.7,1438.6 888.7,1441.1 893.6,1443.5 898.6,1446.0 903.6,1448.4 908.6,1450.7 913.5,1453.1 918.5,1455.4 923.5,1457.7 928.5,1459.9 933.5,1462.2 938.4,1464.4 943.4,1466.6 948.4,1468.7 953.4,1470.8 958.3,1472.9 963.3,1475.0 968.3,1477.1 973.3,1479.1 978.2,1481.1 983.2,1483.1 988.2,1485.0 993.2,1486.9 998.1,1488.8 1003.1,1490.7 1008.1,1492.5 1013.1,1494.4 1018.0,1496.2 1023.0,1497.9 1028.0,1499.7 1033.0,1501.4 1037.9,1503.1 1042.9,1504.8 1047.9,1506.4 1052.9,1508.1 1057.9,1509.7 1062.8,1511.3 1067.8,1512.8 1072.8,1514.4 1077.8,1515.9 1082.7,1517.4 1087.7,1518.9 1092.7,1520.3 1097.7,1521.8 1102.6,1523.2 1107.6,1524.6 1112.6,1526.0 1117.6,1527.3 1122.5,1528.6 1127.5,1530.0 1132.5,1531.3 1137.5,1532.5 1142.4,1533.8 1147.4,1535.0 1152.4,1536.2 1157.4,1537.4 1162.3,1538.6 1167.3,1539.8 1172.3,1540.9 1177.3,1542.1 1182.3,1543.2 1187.2,1544.3 1192.2,1545.3 1197.2,1546.4 1202.2,1547.4 1207.1,1548.5 1212.1,1549.5 1217.1,1550.5 1222.1,1551.5 1227.0,1552.4 1232.0,1553.4 1237.0,1554.3 1242.0,1555.2 1246.9,1556.1 1251.9,1557.0 1256.9,1557.9 1261.9,1558.8 1266.8,1559.6 1271.8,1560.4 1276.8,1561.3 1281.8,1562.1 1286.7,1562.9 1291.7,1563.6 1296.7,1564.4 1301.7,1565.2 1306.7,1565.9 1311.6,1566.6 1316.6,1567.3 1321.6,1568.1 1326.6,1568.7 1331.5,1569.4 1336.5,1570.1 1341.5,1570.8 1346.5,1571.4 1351.4,1572.0 1356.4,1572.7 1361.4,1573.3 1366.4,1573.9 1371.3,1574.5 1376.3,1575.1 1381.3,1575.7 1386.3,1576.2 1391.2,1576.8 1396.2,1577.3 1401.2,1577.9 1406.2,1578.4 1411.1,1578.9 1416.1,1579.4 1421.1,1579.9 1426.1,1580.4 1431.1,1580.9 1436.0,1581.4 1441.0,1581.8 1446.0,1582.3 1451.0,1582.8 1455.9,1583.2 1460.9,1583.6 1465.9,1584.1 1470.9,1584.5 1475.8,1584.9 1480.8,1585.3 1485.8,1585.7 1490.8,1586.1 1495.7,1586.5 1500.7,1586.9 1505.7,1587.2 1510.7,1587.6 1515.6,1588.0 1520.6,1588.3 1525.6,1588.7 1530.6,1589.0 1535.5,1589.3 1540.5,1589.7 1545.5,1590.0"/>
<polyline points="301.5,1111.5 306.5,1113.7 311.5,1115.9 316.4,1118.1 321.4,1120.4 326.4,1122.7 331.4,1125.0 336.3,1127.4 341.3,1129.8 346.3,1132.2 351.3,1134.6 356.2,1137.1 361.2,1139.6 366.2,1142.2 371.2,1144.7 376.1,1147.3 381.1,1149.9 386.1,1152.6 391.1,1155.3 396.0,1158.0 401.0,1160.7 406.0,1163.4 411.0,1166.2 415.9,1169.0 420.9,1171.8 425.9,1174.7 430.9,1177.5 435.9,1180.4 440.8,1183.3 445.8,1186.3 450.8,1189.2 455.8,1192.2 460.7,1195.2 465.7,1198.2 470.7,1201.2 475.7,1204.2 480.6,1207.3 485.6,1210.4 490.6,1213.5 495.6,1216.6 500.5,1219.7 505.5,1222.8 510.5,1225.9 515.5,1229.1 520.4,1232.3 525.4,1235.4 530.4,1238.6 535.4,1241.8 540.3,1245.0 545.3,1248.2 550.3,1251.4 555.3,1254.7 560.3,1257.9 565.2,1261.1 570.2,1264.4 575.2,1267.6 580.2,1270.9 585.1,1274.1 590.1,1277.4 595.1,1280.6 600.1,1283.8 605.0,1287.1 610.0,1290.3 615.0,1293.6 620.0,1296.8 624.9,1300.0 629.9,1303.3 634.9,1306.5 639.9,1309.7 644.8,1312.9 649.8,1316.1 654.8,1319.3 659.8,1322.5 664.7,1325.7 669.7,1328.9 674.7,1332.0 679.7,1335.2 684.7,1338.3 689.6,1341.4 694.6,1344.5 699.6,1347.6 704.6,1350.7 709.5,1353.7 714.5,1356.8 719.5,1359.8 724.5,1362.8 729.4,1365.8 734.4,1368.8 739.4,1371.8 744.4,1374.7 749.3,1377.6 754.3,1380.5 759.3,1383.4 764.3,1386.3 769.2,1389.1 774.2,1392.0 779.2,1394.8 784.2,1397.5 789.1,1400.3 794.1,1403.0 799.1,1405.8 804.1,1408.4 809.1,1411.1 814.0,1413.8 819.0,1416.4 824.0,1419.0 829.0,1421.6 833.9,1424.1 838.9,1426.6 843.9,1429.2 848.9,1431.6 853.8,1434.1 858.8,1436.5 863.8,1438.9 868.8,1441.3 873.7,1443.7 878.7,1446.0 883.7,1448.3 888.7,1450.6 893.6,1452.9 898.6,1455.1 903.6,1457.3 908.6,1459.5 913.5,1461.7 918.5,1463.8 923.5,1465.9 928.5,1468.0 933.5,1470.1 938.4,1472.1 943.4,1474.2 948.4,1476.2 953.4,1478.1 958.3,1480.1 963.3,1482.0 968.3,1483.9 973.3,1485.8 978.2,1487.7 983.2,1489.5 988.2,1491.3 993.2,1493.1 998.1,1494.8 1003.1,1496.6 1008.1,1498.3 1013.1,1500.0 1018.0,1501.7 1023.0,1503.3 1028.0,1505.0 1033.0,1506.6 1037.9,1508.2 1042.9,1509.7 1047.9,1511.3 1052.9,1512.8 1057.9,1514.3 1062.8,1515.8 1067.8,1517.3 1072.8,1518.7 1077.8,1520.1 1082.7,1521.6 1087.7,1522.9 1092.7,1524.3 1097.7,1525.7 1102.6,1527.0 1107.6,1528.3 1112.6,1529.6 1117.6,1530.9 1122.5,1532.1 1127.5,1533.4 1132.5,1534.6 1137.5,1535.8 1142.4,1537.0 1147.4,1538.1 1152.4,1539.3 1157.4,1540.4 1162.3,1541.5 1167.3,1542.6 1172.3,1543.7 1177.3,1544.8 1182.3,1545.8 1187.2,1546.8 1192.2,1547.9 1197.2,1548.9 1202.2,1549.9 1207.1,1550.8 1212.1,1551.8 1217.1,1552.7 1222.1,1553.7 1227.0,1554.6 1232.0,1555.5 1237.0,1556.4 1242.0,1557.2 1246.9,1558.1 1251.9,1558.9 1256.9,1559.8 1261.9,1560.6 1266.8,1561.4 1271.8,1562.2 1276.8,1563.0 1281.8,1563.7 1286.7,1564.5 1291.7,1565.2 1296.7,1566.0 1301.7,1566.7 1306.7,1567.4 1311.6,1568.1 1316.6,1568.8 1321.6,1569.4 1326.6,1570.1 1331.5,1570.8 1336.5,1571.4 1341.5,1572.0 1346.5,1572.7 1351.4,1573.3 1356.4,1573.9 1361.4,1574.5 1366.4,1575.0 1371.3,1575.6 1376.3,1576.2 1381.3,1576.7 1386.3,1577.3 1391.2,1577.8 1396.2,1578.3 1401.2,1578.8 1406.2,1579.3 1411.1,1579.8 1416.1,1580.3 1421.1,1580.8 1426.1,1581.3 1431.1,1581.7 1436.0,1582.2 1441.0,1582.6 1446.0,1583.1 1451.0,1583.5 1455.9,1584.0 1460.9,1584.4 1465.9,1584.8 1470.9,1585.2 1475.8,1585.6 1480.8,1586.0 1485.8,1586.4 1490.8,1586.7 1495.7,1587.1 1500.7,1587.5 1505.7,1587.8 1510.7,1588.2 1515.6,1588.5 1520.6,1588.9 1525.6,1589.2 1530.6,1589.5 1535.5,1589.8 1540.5,1590.2 1545.5,1590.5"/>
<polyline points="301.5,1149.6 306.5,1151.5 311.5,1153.4 316.4,1155.3 321.4,1157.3 326.4,1159.3 331.4,1161.3 336.3,1163.4 341.3,1165.5 346.3,1167.6 351.3,1169.8 356.2,1172.0 361.2,1174.2 366.2,1176.5 371.2,1178.8 376.1,1181.1 381.1,1183.4 386.1,1185.8 391.1,1188.2 396.0,1190.7 401.0,1193.1 406.0,1195.6 411.0,1198.1 415.9,1200.6 420.9,1203.2 425.9,1205.8 430.9,1208.4 435.9,1211.0 440.8,1213.7 445.8,1216.3 450.8,1219.0 455.8,1221.7 460.7,1224.5 465.7,1227.2 470.7,1230.0 475.7,1232.8 480.6,1235.6 485.6,1238.4 490.6,1241.2 495.6,1244.1 500.5,1246.9 505.5,1249.8 510.5,1252.7 515.5,1255.6 520.4,1258.5 525.4,1261.4 530.4,1264.3 535.4,1267.3 540.3,1270.2 545.3,1273.2 550.3,1276.1 555.3,1279.1 560.3,1282.1 565.2,1285.0 570.2,1288.0 575.2,1291.0 580.2,1294.0 585.1,1296.9 590.1,1299.9 595.1,1302.9 600.1,1305.9 605.0,1308.9 610.0,1311.9 615.0,1314.8 620.0,1317.8 624.9,1320.8 629.9,1323.8 634.9,1326.7 639.9,1329.7 644.8,1332.6 649.8,1335.6 654.8,1338.5 659.8,1341.4 664.7,1344.3 669.7,1347.2 674.7,1350.1 679.7,1353.0 684.7,1355.9 689.6,1358.7 694.6,1361.6 699.6,1364.4 704.6,1367.2 709.5,1370.0 714.5,1372.8 719.5,1375.6 724.5,1378.4 729.4,1381.1 734.4,1383.8 739.4,1386.6 744.4,1389.3 749.3,1391.9 754.3,1394.6 759.3,1397.2 764.3,1399.9 769.2,1402.5 774.2,1405.1 779.2,1407.6 784.2,1410.2 789.1,1412.7 794.1,1415.2 799.1,1417.7 804.1,1420.2 809.1,1422.6 814.0,1425.1 819.0,1427.5 824.0,1429.9 829.0,1432.2 833.9,1434.6 838.9,1436.9 843.9,1439.2 848.9,1441.5 853.8,1443.8 858.8,1446.0 863.8,1448.2 868.8,1450.4 873.7,1452.6 878.7,1454.7 883.7,1456.9 888.7,1459.0 893.6,1461.1 898.6,1463.1 903.6,1465.2 908.6,1467.2 913.5,1469.2 918.5,1471.2 923.5,1473.2 928.5,1475.1 933.5,1477.0 938.4,1478.9 943.4,1480.8 948.4,1482.7 953.4,1484.5 958.3,1486.3 963.3,1488.1 968.3,1489.9 973.3,1491.6 978.2,1493.4 983.2,1495.1 988.2,1496.8 993.2,1498.4 998.1,1500.1 1003.1,1501.7 1008.1,1503.3 1013.1,1504.9 1018.0,1506.5 1023.0,1508.0 1028.0,1509.5 1033.0,1511.1 1037.9,1512.5 1042.9,1514.0 1047.9,1515.5 1052.9,1516.9 1057.9,1518.3 1062.8,1519.7 1067.8,1521.1 1072.8,1522.5 1077.8,1523.8 1082.7,1525.1 1087.7,1526.4 1092.7,1527.7 1097.7,1529.0 1102.6,1530.2 1107.6,1531.5 1112.6,1532.7 1117.6,1533.9 1122.5,1535.1 1127.5,1536.3 1132.5,1537.4 1137.5,1538.6 1142.4,1539.7 1147.4,1540.8 1152.4,1541.9 1157.4,1542.9 1162.3,1544.0 1167.3,1545.0 1172.3,1546.1 1177.3,1547.1 1182.3,1548.1 1187.2,1549.1 1192.2,1550.0 1197.2,1551.0 1202.2,1551.9 1207.1,1552.9 1212.1,1553.8 1217.1,1554.7 1222.1,1555.5 1227.0,1556.4 1232.0,1557.3 1237.0,1558.1 1242.0,1559.0 1246.9,1559.8 1251.9,1560.6 1256.9,1561.4 1261.9,1562.2 1266.8,1562.9 1271.8,1563.7 1276.8,1564.4 1281.8,1565.2 1286.7,1565.9 1291.7,1566.6 1296.7,1567.3 1301.7,1568.0 1306.7,1568.7 1311.6,1569.3 1316.6,1570.0 1321.6,1570.6 1326.6,1571.3 1331.5,1571.9 1336.5,1572.5 1341.5,1573.1 1346.5,1573.7 1351.4,1574.3 1356.4,1574.9 1361.4,1575.4 1366.4,1576.0 1371.3,1576.6 1376.3,1577.1 1381.3,1577.6 1386.3,1578.1 1391.2,1578.7 1396.2,1579.2 1401.2,1579.7 1406.2,1580.1 1411.1,1580.6 1416.1,1581.1 1421.1,1581.6 1426.1,1582.0 1431.1,1582.5 1436.0,1582.9 1441.0,1583.3 1446.0,1583.8 1451.0,1584.2 1455.9,1584.6 1460.9,1585.0 1465.9,1585.4 1470.9,1585.8 1475.8,1586.2 1480.8,1586.5 1485.8,1586.9 1490.8,1587.3 1495.7,1587.6 1500.7,1588.0 1505.7,1588.3 1510.7,1588.7 1515.6,1589.0 1520.6,1589.3 1525.6,1589.7 1530.6,1590.0 1535.5,1590.3 1540.5,1590.6 1545.5,1590.9"/>
<polyline points="301.5,1190.0 306.5,1191.5 311.5,1193.0 316.4,1194.6 321.4,1196.2 326.4,1197.8 331.4,1199.5 336.3,1201.2 341.3,1203.0 346.3,1204.8 351.3,1206.6 356.2,1208.5 361.2,1210.4 366.2,1212.3 371.2,1214.3 376.1,1216.2 381.1,1218.3 386.1,1220.3 391.1,1222.4 396.0,1224.5 401.0,1226.6 406.0,1228.8 411.0,1231.0 415.9,1233.2 420.9,1235.5 425.9,1237.7 430.9,1240.0 435.9,1242.4 440.8,1244.7 445.8,1247.1 450.8,1249.4 455.8,1251.8 460.7,1254.3 465.7,1256.7 470.7,1259.2 475.7,1261.6 480.6,1264.1 485.6,1266.7 490.6,1269.2 495.6,1271.7 500.5,1274.3 505.5,1276.9 510.5,1279.4 515.5,1282.0 520.4,1284.6 525.4,1287.3 530.4,1289.9 535.4,1292.5 540.3,1295.2 545.3,1297.8 550.3,1300.5 555.3,1303.1 560.3,1305.8 565.2,1308.5 570.2,1311.2 575.2,1313.8 580.2,1316.5 585.1,1319.2 590.1,1321.9 595.1,1324.6 600.1,1327.3 605.0,1330.0 610.0,1332.7 615.0,1335.3 620.0,1338.0 624.9,1340.7 629.9,1343.4 634.9,1346.0 639.9,1348.7 644.8,1351.4 649.8,1354.0 654.8,1356.7 659.8,1359.3 664.7,1361.9 669.7,1364.6 674.7,1367.2 679.7,1369.8 684.7,1372.4 689.6,1375.0 694.6,1377.5 699.6,1380.1 704.6,1382.7 709.5,1385.2 714.5,1387.7 719.5,1390.2 724.5,1392.7 729.4,1395.2 734.4,1397.7 739.4,1400.2 744.4,1402.6 749.3,1405.1 754.3,1407.5 759.3,1409.9 764.3,1412.3 769.2,1414.6 774.2,1417.0 779.2,1419.3 784.2,1421.7 789.1,1424.0 794.1,1426.3 799.1,1428.5 804.1,1430.8 809.1,1433.0 814.0,1435.3 819.0,1437.5 824.0,1439.6 829.0,1441.8 833.9,1444.0 838.9,1446.1 843.9,1448.2 848.9,1450.3 853.8,1452.4 858.8,1454.5 863.8,1456.5 868.8,1458.5 873.7,1460.5 878.7,1462.5 883.7,1464.5 888.7,1466.4 893.6,1468.4 898.6,1470.3 903.6,1472.2 908.6,1474.1 913.5,1475.9 918.5,1477.8 923.5,1479.6 928.5,1481.4 933.5,1483.2 938.4,1484.9 943.4,1486.7 948.4,1488.4 953.4,1490.1 958.3,1491.8 963.3,1493.5 968.3,1495.1 973.3,1496.8 978.2,1498.4 983.2,1500.0 988.2,1501.6 993.2,1503.1 998.1,1504.7 1003.1,1506.2 1008.1,1507.7 1013.1,1509.2 1018.0,1510.7 1023.0,1512.1 1028.0,1513.6 1033.0,1515.0 1037.9,1516.4 1042.9,1517.8 1047.9,1519.1 1052.9,1520.5 1057.9,1521.8 1062.8,1523.2 1067.8,1524.5 1072.8,1525.7 1077.8,1527.0 1082.7,1528.3 1087.7,1529.5 1092.7,1530.7 1097.7,1531.9 1102.6,1533.1 1107.6,1534.3 1112.6,1535.4 1117.6,1536.6 1122.5,1537.7 1127.5,1538.8 1132.5,1539.9 1137.5,1541.0 1142.4,1542.1 1147.4,1543.1 1152.4,1544.1 1157.4,1545.2 1162.3,1546.2 1167.3,1547.2 1172.3,1548.2 1177.3,1549.1 1182.3,1550.1 1187.2,1551.0 1192.2,1551.9 1197.2,1552.8 1202.2,1553.7 1207.1,1554.6 1212.1,1555.5 1217.1,1556.4 1222.1,1557.2 1227.0,1558.0 1232.0,1558.9 1237.0,1559.7 1242.0,1560.5 1246.9,1561.2 1251.9,1562.0 1256.9,1562.8 1261.9,1563.5 1266.8,1564.3 1271.8,1565.0 1276.8,1565.7 1281.8,1566.4 1286.7,1567.1 1291.7,1567.8 1296.7,1568.5 1301.7,1569.1 1306.7,1569.8 1311.6,1570.4 1316.6,1571.1 1321.6,1571.7 1326.6,1572.3 1331.5,1572.9 1336.5,1573.5 1341.5,1574.1 1346.5,1574.6 1351.4,1575.2 1356.4,1575.8 1361.4,1576.3 1366.4,1576.9 1371.3,1577.4 1376.3,1577.9 1381.3,1578.4 1386.3,1578.9 1391.2,1579.4 1396.2,1579.9 1401.2,1580.4 1406.2,1580.9 1411.1,1581.3 1416.1,1581.8 1421.1,1582.2 1426.1,1582.7 1431.1,1583.1 1436.0,1583.5 1441.0,1583.9 1446.0,1584.4 1451.0,1584.8 1455.9,1585.2 1460.9,1585.5 1465.9,1585.9 1470.9,1586.3 1475.8,1586.7 1480.8,1587.0 1485.8,1587.4 1490.8,1587.8 1495.7,1588.1 1500.7,1588.5 1505.7,1588.8 1510.7,1589.1 1515.6,1589.4 1520.6,1589.8 1525.6,1590.1 1530.6,1590.4 1535.5,1590.7 1540.5,1591.0 1545.5,1591.3"/>
<polyline points="301.5,1232.9 306.5,1234.0 311.5,1235.0 316.4,1236.2 321.4,1237.3 326.4,1238.5 331.4,1239.8 336.3,1241.1 341.3,1242.4 346.3,1243.8 351.3,1245.2 356.2,1246.7 361.2,1248.1 366.2,1249.7 371.2,1251.2 376.1,1252.8 381.1,1254.5 386.1,1256.1 391.1,1257.8 396.0,1259.5 401.0,1261.3 406.0,1263.1 411.0,1264.9 415.9,1266.7 420.9,1268.6 425.9,1270.5 430.9,1272.4 435.9,1274.4 440.8,1276.4 445.8,1278.4 450.8,1280.4 455.8,1282.4 460.7,1284.5 465.7,1286.6 470.7,1288.7 475.7,1290.8 480.6,1292.9 485.6,1295.1 490.6,1297.3 495.6,1299.5 500.5,1301.7 505.5,1303.9 510.5,1306.1 515.5,1308.4 520.4,1310.6 525.4,1312.9 530.4,1315.2 535.4,1317.5 540.3,1319.8 545.3,1322.1 550.3,1324.4 555.3,1326.7 560.3,1329.1 565.2,1331.4 570.2,1333.8 575.2,1336.1 580.2,1338.5 585.1,1340.8 590.1,1343.2 595.1,1345.5 600.1,1347.9 605.0,1350.3 610.0,1352.6 615.0,1355.0 620.0,1357.4 624.9,1359.7 629.9,1362.1 634.9,1364.5 639.9,1366.8 644.8,1369.2 649.8,1371.5 654.8,1373.9 659.8,1376.2 664.7,1378.6 669.7,1380.9 674.7,1383.2 679.7,1385.5 684.7,1387.8 689.6,1390.1 694.6,1392.4 699.6,1394.7 704.6,1397.0 709.5,1399.3 714.5,1401.6 719.5,1403.8 724.5,1406.1 729.4,1408.3 734.4,1410.5 739.4,1412.7 744.4,1414.9 749.3,1417.1 754.3,1419.3 759.3,1421.5 764.3,1423.6 769.2,1425.8 774.2,1427.9 779.2,1430.0 784.2,1432.1 789.1,1434.2 794.1,1436.3 799.1,1438.4 804.1,1440.4 809.1,1442.5 814.0,1444.5 819.0,1446.5 824.0,1448.5 829.0,1450.5 833.9,1452.5 838.9,1454.4 843.9,1456.4 848.9,1458.3 853.8,1460.2 858.8,1462.1 863.8,1464.0 868.8,1465.8 873.7,1467.7 878.7,1469.5 883.7,1471.3 888.7,1473.1 893.6,1474.9 898.6,1476.7 903.6,1478.5 908.6,1480.2 913.5,1481.9 918.5,1483.6 923.5,1485.3 928.5,1487.0 933.5,1488.7 938.4,1490.3 943.4,1491.9 948.4,1493.5 953.4,1495.1 958.3,1496.7 963.3,1498.3 968.3,1499.8 973.3,1501.4 978.2,1502.9 983.2,1504.4 988.2,1505.9 993.2,1507.3 998.1,1508.8 1003.1,1510.2 1008.1,1511.6 1013.1,1513.0 1018.0,1514.4 1023.0,1515.8 1028.0,1517.1 1033.0,1518.5 1037.9,1519.8 1042.9,1521.1 1047.9,1522.4 1052.9,1523.7 1057.9,1525.0 1062.8,1526.2 1067.8,1527.4 1072.8,1528.7 1077.8,1529.9 1082.7,1531.1 1087.7,1532.2 1092.7,1533.4 1097.7,1534.5 1102.6,1535.7 1107.6,1536.8 1112.6,1537.9 1117.6,1539.0 1122.5,1540.0 1127.5,1541.1 1132.5,1542.1 1137.5,1543.2 1142.4,1544.2 1147.4,1545.2 1152.4,1546.2 1157.4,1547.2 1162.3,1548.1 1167.3,1549.1 1172.3,1550.0 1177.3,1550.9 1182.3,1551.8 1187.2,1552.7 1192.2,1553.6 1197.2,1554.5 1202.2,1555.4 1207.1,1556.2 1212.1,1557.0 1217.1,1557.9 1222.1,1558.7 1227.0,1559.5 1232.0,1560.3 1237.0,1561.0 1242.0,1561.8 1246.9,1562.6 1251.9,1563.3 1256.9,1564.0 1261.9,1564.8 1266.8,1565.5 1271.8,1566.2 1276.8,1566.9 1281.8,1567.5 1286.7,1568.2 1291.7,1568.9 1296.7,1569.5 1301.7,1570.2 1306.7,1570.8 1311.6,1571.4 1316.6,1572.0 1321.6,1572.6 1326.6,1573.2 1331.5,1573.8 1336.5,1574.4 1341.5,1574.9 1346.5,1575.5 1351.4,1576.0 1356.4,1576.6 1361.4,1577.1 1366.4,1577.6 1371.3,1578.1 1376.3,1578.6 1381.3,1579.1 1386.3,1579.6 1391.2,1580.1 1396.2,1580.6 1401.2,1581.0 1406.2,1581.5 1411.1,1581.9 1416.1,1582.4 1421.1,1582.8 1426.1,1583.2 1431.1,1583.7 1436.0,1584.1 1441.0,1584.5 1446.0,1584.9 1451.0,1585.3 1455.9,1585.7 1460.9,1586.0 1465.9,1586.4 1470.9,1586.8 1475.8,1587.1 1480.8,1587.5 1485.8,1587.8 1490.8,1588.2 1495.7,1588.5 1500.7,1588.9 1505.7,1589.2 1510.7,1589.5 1515.6,1589.8 1520.6,1590.1 1525.6,1590.4 1530.6,1590.7 1535.5,1591.0 1540.5,1591.3 1545.5,1591.6"/>
<polyline points="301.5,1278.9 306.5,1279.3 311.5,1279.8 316.4,1280.4 321.4,1281.0 326.4,1281.7 331.4,1282.4 336.3,1283.2 341.3,1284.0 346.3,1284.9 351.3,1285.8 356.2,1286.7 361.2,1287.7 366.2,1288.8 371.2,1289.8 376.1,1290.9 381.1,1292.1 386.1,1293.3 391.1,1294.5 396.0,1295.8 401.0,1297.1 406.0,1298.4 411.0,1299.8 415.9,1301.2 420.9,1302.6 425.9,1304.1 430.9,1305.5 435.9,1307.1 440.8,1308.6 445.8,1310.2 450.8,1311.8 455.8,1313.4 460.7,1315.0 465.7,1316.7 470.7,1318.4 475.7,1320.1 480.6,1321.8 485.6,1323.6 490.6,1325.3 495.6,1327.1 500.5,1328.9 505.5,1330.8 510.5,1332.6 515.5,1334.4 520.4,1336.3 525.4,1338.2 530.4,1340.1 535.4,1342.0 540.3,1343.9 545.3,1345.9 550.3,1347.8 555.3,1349.8 560.3,1351.7 565.2,1353.7 570.2,1355.7 575.2,1357.7 580.2,1359.7 585.1,1361.7 590.1,1363.7 595.1,1365.7 600.1,1367.7 605.0,1369.7 610.0,1371.7 615.0,1373.8 620.0,1375.8 624.9,1377.8 629.9,1379.9 634.9,1381.9 639.9,1384.0 644.8,1386.0 649.8,1388.0 654.8,1390.1 659.8,1392.1 664.7,1394.2 669.7,1396.2 674.7,1398.2 679.7,1400.2 684.7,1402.3 689.6,1404.3 694.6,1406.3 699.6,1408.3 704.6,1410.4 709.5,1412.4 714.5,1414.4 719.5,1416.4 724.5,1418.4 729.4,1420.3 734.4,1422.3 739.4,1424.3 744.4,1426.3 749.3,1428.2 754.3,1430.2 759.3,1432.1 764.3,1434.1 769.2,1436.0 774.2,1437.9 779.2,1439.8 784.2,1441.7 789.1,1443.6 794.1,1445.5 799.1,1447.4 804.1,1449.2 809.1,1451.1 814.0,1452.9 819.0,1454.8 824.0,1456.6 829.0,1458.4 833.9,1460.2 838.9,1462.0 843.9,1463.8 848.9,1465.5 853.8,1467.3 858.8,1469.0 863.8,1470.7 868.8,1472.5 873.7,1474.2 878.7,1475.9 883.7,1477.5 888.7,1479.2 893.6,1480.9 898.6,1482.5 903.6,1484.1 908.6,1485.7 913.5,1487.3 918.5,1488.9 923.5,1490.5 928.5,1492.1 933.5,1493.6 938.4,1495.2 943.4,1496.7 948.4,1498.2 953.4,1499.7 958.3,1501.1 963.3,1502.6 968.3,1504.1 973.3,1505.5 978.2,1506.9 983.2,1508.3 988.2,1509.7 993.2,1511.1 998.1,1512.5 1003.1,1513.8 1008.1,1515.2 1013.1,1516.5 1018.0,1517.8 1023.0,1519.1 1028.0,1520.4 1033.0,1521.6 1037.9,1522.9 1042.9,1524.1 1047.9,1525.4 1052.9,1526.6 1057.9,1527.8 1062.8,1529.0 1067.8,1530.1 1072.8,1531.3 1077.8,1532.4 1082.7,1533.6 1087.7,1534.7 1092.7,1535.8 1097.7,1536.9 1102.6,1538.0 1107.6,1539.0 1112.6,1540.1 1117.6,1541.1 1122.5,1542.1 1127.5,1543.1 1132.5,1544.1 1137.5,1545.1 1142.4,1546.1 1147.4,1547.1 1152.4,1548.0 1157.4,1548.9 1162.3,1549.9 1167.3,1550.8 1172.3,1551.7 1177.3,1552.6 1182.3,1553.4 1187.2,1554.3 1192.2,1555.1 1197.2,1556.0 1202.2,1556.8 1207.1,1557.6 1212.1,1558.4 1217.1,1559.2 1222.1,1560.0 1227.0,1560.8 1232.0,1561.5 1237.0,1562.3 1242.0,1563.0 1246.9,1563.7 1251.9,1564.5 1256.9,1565.2 1261.9,1565.9 1266.8,1566.5 1271.8,1567.2 1276.8,1567.9 1281.8,1568.5 1286.7,1569.2 1291.7,1569.8 1296.7,1570.5 1301.7,1571.1 1306.7,1571.7 1311.6,1572.3 1316.6,1572.9 1321.6,1573.4 1326.6,1574.0 1331.5,1574.6 1336.5,1575.1 1341.5,1575.7 1346.5,1576.2 1351.4,1576.8 1356.4,1577.3 1361.4,1577.8 1366.4,1578.3 1371.3,1578.8 1376.3,1579.3 1381.3,1579.8 1386.3,1580.2 1391.2,1580.7 1396.2,1581.2 1401.2,1581.6 1406.2,1582.0 1411.1,1582.5 1416.1,1582.9 1421.1,1583.3 1426.1,1583.7 1431.1,1584.2 1436.0,1584.6 1441.0,1585.0 1446.0,1585.3 1451.0,1585.7 1455.9,1586.1 1460.9,1586.5 1465.9,1586.8 1470.9,1587.2 1475.8,1587.5 1480.8,1587.9 1485.8,1588.2 1490.8,1588.6 1495.7,1588.9 1500.7,1589.2 1505.7,1589.5 1510.7,1589.9 1515.6,1590.2 1520.6,1590.5 1525.6,1590.8 1530.6,1591.0 1535.5,1591.3 1540.5,1591.6 1545.5,1591.9"/>
<polyline points="301.5,1328.5 306.5,1328.2 311.5,1328.0 316.4,1327.8 321.4,1327.7 326.4,1327.7 331.4,1327.8 336.3,1327.9 341.3,1328.1 346.3,1328.3 351.3,1328.6 356.2,1328.9 361.2,1329.3 366.2,1329.7 371.2,1330.2 376.1,1330.7 381.1,1331.3 386.1,1331.9 391.1,1332.6 396.0,1333.3 401.0,1334.0 406.0,1334.8 411.0,1335.6 415.9,1336.5 420.9,1337.4 425.9,1338.3 430.9,1339.3 435.9,1340.3 440.8,1341.3 445.8,1342.4 450.8,1343.5 455.8,1344.6 460.7,1345.8 465.7,1347.0 470.7,1348.2 475.7,1349.4 480.6,1350.6 485.6,1351.9 490.6,1353.2 495.6,1354.6 500.5,1355.9 505.5,1357.3 510.5,1358.7 515.5,1360.1 520.4,1361.5 525.4,1363.0 530.4,1364.5 535.4,1365.9 540.3,1367.4 545.3,1369.0 550.3,1370.5 555.3,1372.0 560.3,1373.6 565.2,1375.2 570.2,1376.8 575.2,1378.4 580.2,1380.0 585.1,1381.6 590.1,1383.3 595.1,1384.9 600.1,1386.6 605.0,1388.2 610.0,1389.9 615.0,1391.6 620.0,1393.3 624.9,1395.0 629.9,1396.7 634.9,1398.4 639.9,1400.1 644.8,1401.8 649.8,1403.5 654.8,1405.3 659.8,1407.0 664.7,1408.8 669.7,1410.5 674.7,1412.2 679.7,1414.0 684.7,1415.7 689.6,1417.5 694.6,1419.2 699.6,1421.0 704.6,1422.7 709.5,1424.5 714.5,1426.2 719.5,1428.0 724.5,1429.7 729.4,1431.5 734.4,1433.2 739.4,1435.0 744.4,1436.7 749.3,1438.5 754.3,1440.2 759.3,1441.9 764.3,1443.6 769.2,1445.4 774.2,1447.1 779.2,1448.8 784.2,1450.5 789.1,1452.2 794.1,1453.9 799.1,1455.6 804.1,1457.3 809.1,1459.0 814.0,1460.6 819.0,1462.3 824.0,1464.0 829.0,1465.6 833.9,1467.3 838.9,1468.9 843.9,1470.5 848.9,1472.1 853.8,1473.7 858.8,1475.3 863.8,1476.9 868.8,1478.5 873.7,1480.1 878.7,1481.6 883.7,1483.2 888.7,1484.7 893.6,1486.3 898.6,1487.8 903.6,1489.3 908.6,1490.8 913.5,1492.3 918.5,1493.8 923.5,1495.2 928.5,1496.7 933.5,1498.1 938.4,1499.6 943.4,1501.0 948.4,1502.4 953.4,1503.8 958.3,1505.2 963.3,1506.6 968.3,1507.9 973.3,1509.3 978.2,1510.6 983.2,1511.9 988.2,1513.3 993.2,1514.6 998.1,1515.8 1003.1,1517.1 1008.1,1518.4 1013.1,1519.6 1018.0,1520.9 1023.0,1522.1 1028.0,1523.3 1033.0,1524.5 1037.9,1525.7 1042.9,1526.9 1047.9,1528.1 1052.9,1529.2 1057.9,1530.3 1062.8,1531.5 1067.8,1532.6 1072.8,1533.7 1077.8,1534.8 1082.7,1535.9 1087.7,1536.9 1092.7,1538.0 1097.7,1539.0 1102.6,1540.0 1107.6,1541.1 1112.6,1542.1 1117.6,1543.1 1122.5,1544.0 1127.5,1545.0 1132.5,1546.0 1137.5,1546.9 1142.4,1547.8 1147.4,1548.8 1152.4,1549.7 1157.4,1550.6 1162.3,1551.4 1167.3,1552.3 1172.3,1553.2 1177.3,1554.0 1182.3,1554.9 1187.2,1555.7 1192.2,1556.5 1197.2,1557.3 1202.2,1558.1 1207.1,1558.9 1212.1,1559.7 1217.1,1560.4 1222.1,1561.2 1227.0,1561.9 1232.0,1562.7 1237.0,1563.4 1242.0,1564.1 1246.9,1564.8 1251.9,1565.5 1256.9,1566.2 1261.9,1566.9 1266.8,1567.5 1271.8,1568.2 1276.8,1568.8 1281.8,1569.5 1286.7,1570.1 1291.7,1570.7 1296.7,1571.3 1301.7,1571.9 1306.7,1572.5 1311.6,1573.1 1316.6,1573.6 1321.6,1574.2 1326.6,1574.8 1331.5,1575.3 1336.5,1575.8 1341.5,1576.4 1346.5,1576.9 1351.4,1577.4 1356.4,1577.9 1361.4,1578.4 1366.4,1578.9 1371.3,1579.4 1376.3,1579.9 1381.3,1580.3 1386.3,1580.8 1391.2,1581.2 1396.2,1581.7 1401.2,1582.1 1406.2,1582.6 1411.1,1583.0 1416.1,1583.4 1421.1,1583.8 1426.1,1584.2 1431.1,1584.6 1436.0,1585.0 1441.0,1585.4 1446.0,1585.8 1451.0,1586.1 1455.9,1586.5 1460.9,1586.9 1465.9,1587.2 1470.9,1587.6 1475.8,1587.9 1480.8,1588.3 1485.8,1588.6 1490.8,1588.9 1495.7,1589.2 1500.7,1589.6 1505.7,1589.9 1510.7,1590.2 1515.6,1590.5 1520.6,1590.8 1525.6,1591.1 1530.6,1591.3 1535.5,1591.6 1540.5,1591.9 1545.5,1592.2"/>
<polyline points="301.5,1382.8 306.5,1381.5 311.5,1380.3 316.4,1379.2 321.4,1378.2 326.4,1377.3 331.4,1376.4 336.3,1375.7 341.3,1375.0 346.3,1374.4 351.3,1373.9 356.2,1373.4 361.2,1373.0 366.2,1372.7 371.2,1372.5 376.1,1372.3 381.1,1372.1 386.1,1372.0 391.1,1372.0 396.0,1372.0 401.0,1372.1 406.0,1372.2 411.0,1372.4 415.9,1372.6 420.9,1372.9 425.9,1373.2 430.9,1373.5 435.9,1373.9 440.8,1374.4 445.8,1374.8 450.8,1375.3 455.8,1375.9 460.7,1376.5 465.7,1377.1 470.7,1377.8 475.7,1378.5 480.6,1379.2 485.6,1379.9 490.6,1380.7 495.6,1381.5 500.5,1382.4 505.5,1383.3 510.5,1384.2 515.5,1385.1 520.4,1386.1 525.4,1387.0 530.4,1388.1 535.4,1389.1 540.3,1390.1 545.3,1391.2 550.3,1392.3 555.3,1393.4 560.3,1394.6 565.2,1395.8 570.2,1396.9 575.2,1398.1 580.2,1399.4 585.1,1400.6 590.1,1401.9 595.1,1403.1 600.1,1404.4 605.0,1405.7 610.0,1407.0 615.0,1408.4 620.0,1409.7 624.9,1411.1 629.9,1412.5 634.9,1413.8 639.9,1415.2 644.8,1416.6 649.8,1418.1 654.8,1419.5 659.8,1420.9 664.7,1422.4 669.7,1423.8 674.7,1425.3 679.7,1426.8 684.7,1428.2 689.6,1429.7 694.6,1431.2 699.6,1432.7 704.6,1434.2 709.5,1435.7 714.5,1437.2 719.5,1438.8 724.5,1440.3 729.4,1441.8 734.4,1443.3 739.4,1444.8 744.4,1446.4 749.3,1447.9 754.3,1449.4 759.3,1451.0 764.3,1452.5 769.2,1454.0 774.2,1455.6 779.2,1457.1 784.2,1458.6 789.1,1460.1 794.1,1461.7 799.1,1463.2 804.1,1464.7 809.1,1466.2 814.0,1467.7 819.0,1469.2 824.0,1470.8 829.0,1472.3 833.9,1473.8 838.9,1475.2 843.9,1476.7 848.9,1478.2 853.8,1479.7 858.8,1481.1 863.8,1482.6 868.8,1484.1 873.7,1485.5 878.7,1487.0 883.7,1488.4 888.7,1489.8 893.6,1491.2 898.6,1492.6 903.6,1494.0 908.6,1495.4 913.5,1496.8 918.5,1498.2 923.5,1499.6 928.5,1500.9 933.5,1502.3 938.4,1503.6 943.4,1505.0 948.4,1506.3 953.4,1507.6 958.3,1508.9 963.3,1510.2 968.3,1511.5 973.3,1512.7 978.2,1514.0 983.2,1515.2 988.2,1516.5 993.2,1517.7 998.1,1518.9 1003.1,1520.1 1008.1,1521.3 1013.1,1522.5 1018.0,1523.7 1023.0,1524.9 1028.0,1526.0 1033.0,1527.2 1037.9,1528.3 1042.9,1529.4 1047.9,1530.5 1052.9,1531.6 1057.9,1532.7 1062.8,1533.8 1067.8,1534.8 1072.8,1535.9 1077.8,1536.9 1082.7,1537.9 1087.7,1539.0 1092.7,1540.0 1097.7,1541.0 1102.6,1542.0 1107.6,1542.9 1112.6,1543.9 1117.6,1544.8 1122.5,1545.8 1127.5,1546.7 1132.5,1547.6 1137.5,1548.5 1142.4,1549.4 1147.4,1550.3 1152.4,1551.2 1157.4,1552.0 1162.3,1552.9 1167.3,1553.7 1172.3,1554.6 1177.3,1555.4 1182.3,1556.2 1187.2,1557.0 1192.2,1557.8 1197.2,1558.6 1202.2,1559.3 1207.1,1560.1 1212.1,1560.8 1217.1,1561.6 1222.1,1562.3 1227.0,1563.0 1232.0,1563.7 1237.0,1564.4 1242.0,1565.1 1246.9,1565.8 1251.9,1566.5 1256.9,1567.1 1261.9,1567.8 1266.8,1568.4 1271.8,1569.1 1276.8,1569.7 1281.8,1570.3 1286.7,1570.9 1291.7,1571.5 1296.7,1572.1 1301.7,1572.7 1306.7,1573.2 1311.6,1573.8 1316.6,1574.4 1321.6,1574.9 1326.6,1575.4 1331.5,1576.0 1336.5,1576.5 1341.5,1577.0 1346.5,1577.5 1351.4,1578.0 1356.4,1578.5 1361.4,1579.0 1366.4,1579.5 1371.3,1579.9 1376.3,1580.4 1381.3,1580.9 1386.3,1581.3 1391.2,1581.7 1396.2,1582.2 1401.2,1582.6 1406.2,1583.0 1411.1,1583.4 1416.1,1583.9 1421.1,1584.3 1426.1,1584.6 1431.1,1585.0 1436.0,1585.4 1441.0,1585.8 1446.0,1586.2 1451.0,1586.5 1455.9,1586.9 1460.9,1587.2 1465.9,1587.6 1470.9,1587.9 1475.8,1588.3 1480.8,1588.6 1485.8,1588.9 1490.8,1589.2 1495.7,1589.6 1500.7,1589.9 1505.7,1590.2 1510.7,1590.5 1515.6,1590.8 1520.6,1591.0 1525.6,1591.3 1530.6,1591.6 1535.5,1591.9 1540.5,1592.1 1545.5,1592.4"/>
</g>
<g fill="#000" shape-rendering="crispEdges"><rect x="299.00" y="31.00" width="5.00" height="1578.70"/>
<rect x="1543.00" y="31.00" width="5.00" height="1578.70"/>
<rect x="299.00" y="31.00" width="1249.00" height="5.00"/>
<rect x="299.00" y="818.00" width="1249.00" height="5.00"/>
<rect x="299.00" y="1604.00" width="1249.00" height="5.70"/>
<rect x="373.80" y="33.50" width="5.20" height="13.30"/>
<rect x="373.80" y="807.20" width="5.20" height="26.60"/>
<rect x="373.80" y="1593.50" width="5.20" height="13.30"/>
<rect x="417.61" y="33.50" width="5.20" height="13.30"/>
<rect x="417.61" y="807.20" width="5.20" height="26.60"/>
<rect x="417.61" y="1593.50" width="5.20" height="13.30"/>
<rect x="448.69" y="33.50" width="5.20" height="13.30"/>
<rect x="448.69" y="807.20" width="5.20" height="26.60"/>
<rect x="448.69" y="1593.50" width="5.20" height="13.30"/>
<rect x="472.80" y="33.50" width="5.20" height="13.30"/>
<rect x="472.80" y="807.20" width="5.20" height="26.60"/>
<rect x="472.80" y="1593.50" width="5.20" height="13.30"/>
<rect x="492.50" y="33.50" width="5.20" height="13.30"/>
<rect x="492.50" y="807.20" width="5.20" height="26.60"/>
<rect x="492.50" y="1593.50" width="5.20" height="13.30"/>
<rect x="509.16" y="33.50" width="5.20" height="13.30"/>
<rect x="509.16" y="807.20" width="5.20" height="26.60"/>
<rect x="509.16" y="1593.50" width="5.20" height="13.30"/>
<rect x="523.59" y="33.50" width="5.20" height="13.30"/>
<rect x="523.59" y="807.20" width="5.20" height="26.60"/>
<rect x="523.59" y="1593.50" width="5.20" height="13.30"/>
<rect x="536.32" y="33.50" width="5.20" height="13.30"/>
<rect x="536.32" y="807.20" width="5.20" height="26.60"/>
<rect x="536.32" y="1593.50" width="5.20" height="13.30"/>
<rect x="547.80" y="33.50" width="5.00" height="26.50"/>
<rect x="547.80" y="793.00" width="5.00" height="54.00"/>
<rect x="547.80" y="1580.30" width="5.00" height="26.50"/>
<rect x="622.60" y="33.50" width="5.20" height="13.30"/>
<rect x="622.60" y="807.20" width="5.20" height="26.60"/>
<rect x="622.60" y="1593.50" width="5.20" height="13.30"/>
<rect x="666.41" y="33.50" width="5.20" height="13.30"/>
<rect x="666.41" y="807.20" width="5.20" height="26.60"/>
<rect x="666.41" y="1593.50" width="5.20" height="13.30"/>
<rect x="697.49" y="33.50" width="5.20" height="13.30"/>
<rect x="697.49" y="807.20" width="5.20" height="26.60"/>
<rect x="697.49" y="1593.50" width="5.20" height="13.30"/>
<rect x="721.60" y="33.50" width="5.20" height="13.30"/>
<rect x="721.60" y="807.20" width="5.20" height="26.60"/>
<rect x="721.60" y="1593.50" width="5.20" height="13.30"/>
<rect x="741.30" y="33.50" width="5.20" height="13.30"/>
<rect x="741.30" y="807.20" width="5.20" height="26.60"/>
<rect x="741.30" y="1593.50" width="5.20" height="13.30"/>
<rect x="757.96" y="33.50" width="5.20" height="13.30"/>
<rect x="757.96" y="807.20" width="5.20" height="26.60"/>
<rect x="757.96" y="1593.50" width="5.20" height="13.30"/>
<rect x="772.39" y="33.50" width="5.20" height="13.30"/>
<rect x="772.39" y="807.20" width="5.20" height="26.60"/>
<rect x="772.39" y="1593.50" width="5.20" height="13.30"/>
<rect x="785.12" y="33.50" width="5.20" height="13.30"/>
<rect x="785.12" y="807.20" width="5.20" height="26.60"/>
<rect x="785.12" y="1593.50" width="5.20" height="13.30"/>
<rect x="796.60" y="33.50" width="5.00" height="26.50"/>
<rect x="796.60" y="793.00" width="5.00" height="54.00"/>
<rect x="796.60" y="1580.30" width="5.00" height="26.50"/>
<rect x="871.40" y="33.50" width="5.20" height="13.30"/>
<rect x="871.40" y="807.20" width="5.20" height="26.60"/>
<rect x="871.40" y="1593.50" width="5.20" height="13.30"/>
<rect x="915.21" y="33.50" width="5.20" height="13.30"/>
<rect x="915.21" y="807.20" width="5.20" height="26.60"/>
<rect x="915.21" y="1593.50" width="5.20" height="13.30"/>
<rect x="946.29" y="33.50" width="5.20" height="13.30"/>
<rect x="946.29" y="807.20" width="5.20" height="26.60"/>
<rect x="946.29" y="1593.50" width="5.20" height="13.30"/>
<rect x="970.40" y="33.50" width="5.20" height="13.30"/>
<rect x="970.40" y="807.20" width="5.20" height="26.60"/>
<rect x="970.40" y="1593.50" width="5.20" height="13.30"/>
<rect x="990.10" y="33.50" width="5.20" height="13.30"/>
<rect x="990.10" y="807.20" width="5.20" height="26.60"/>
<rect x="990.10" y="1593.50" width="5.20" height="13.30"/>
<rect x="1006.76" y="33.50" width="5.20" height="13.30"/>
<rect x="1006.76" y="807.20" width="5.20" height="26.60"/>
<rect x="1006.76" y="1593.50" width="5.20" height="13.30"/>
<rect x="1021.19" y="33.50" width="5.20" height="13.30"/>
<rect x="1021.19" y="807.20" width="5.20" height="26.60"/>
<rect x="1021.19" y="1593.50" width="5.20" height="13.30"/>
<rect x="1033.92" y="33.50" width="5.20" height="13.30"/>
<rect x="1033.92" y="807.20" width="5.20" height="26.60"/>
<rect x="1033.92" y="1593.50" width="5.20" height="13.30"/>
<rect x="1045.40" y="33.50" width="5.00" height="26.50"/>
<rect x="1045.40" y="793.00" width="5.00" height="54.00"/>
<rect x="1045.40" y="1580.30" width="5.00" height="26.50"/>
<rect x="1120.20" y="33.50" width="5.20" height="13.30"/>
<rect x="1120.20" y="807.20" width="5.20" height="26.60"/>
<rect x="1120.20" y="1593.50" width="5.20" height="13.30"/>
<rect x="1164.01" y="33.50" width="5.20" height="13.30"/>
<rect x="1164.01" y="807.20" width="5.20" height="26.60"/>
<rect x="1164.01" y="1593.50" width="5.20" height="13.30"/>
<rect x="1195.09" y="33.50" width="5.20" height="13.30"/>
<rect x="1195.09" y="807.20" width="5.20" height="26.60"/>
<rect x="1195.09" y="1593.50" width="5.20" height="13.30"/>
<rect x="1219.20" y="33.50" width="5.20" height="13.30"/>
<rect x="1219.20" y="807.20" width="5.20" height="26.60"/>
<rect x="1219.20" y="1593.50" width="5.20" height="13.30"/>
<rect x="1238.90" y="33.50" width="5.20" height="13.30"/>
<rect x="1238.90" y="807.20" width="5.20" height="26.60"/>
<rect x="1238.90" y="1593.50" width="5.20" height="13.30"/>
<rect x="1255.56" y="33.50" width="5.20" height="13.30"/>
<rect x="1255.56" y="807.20" width="5.20" height="26.60"/>
<rect x="1255.56" y="1593.50" width="5.20" height="13.30"/>
<rect x="1269.99" y="33.50" width="5.20" height="13.30"/>
<rect x="1269.99" y="807.20" width="5.20" height="26.60"/>
<rect x="1269.99" y="1593.50" width="5.20" height="13.30"/>
<rect x="1282.72" y="33.50" width="5.20" height="13.30"/>
<rect x="1282.72" y="807.20" width="5.20" height="26.60"/>
<rect x="1282.72" y="1593.50" width="5.20" height="13.30"/>
<rect x="1294.20" y="33.50" width="5.00" height="26.50"/>
<rect x="1294.20" y="793.00" width="5.00" height="54.00"/>
<rect x="1294.20" y="1580.30" width="5.00" height="26.50"/>
<rect x="1369.00" y="33.50" width="5.20" height="13.30"/>
<rect x="1369.00" y="807.20" width="5.20" height="26.60"/>
<rect x="1369.00" y="1593.50" width="5.20" height="13.30"/>
<rect x="1412.81" y="33.50" width="5.20" height="13.30"/>
<rect x="1412.81" y="807.20" width="5.20" height="26.60"/>
<rect x="1412.81" y="1593.50" width="5.20" height="13.30"/>
<rect x="1443.89" y="33.50" width="5.20" height="13.30"/>
<rect x="1443.89" y="807.20" width="5.20" height="26.60"/>
<rect x="1443.89" y="1593.50" width="5.20" height="13.30"/>
<rect x="1468.00" y="33.50" width="5.20" height="13.30"/>
<rect x="1468.00" y="807.20" width="5.20" height="26.60"/>
<rect x="1468.00" y="1593.50" width="5.20" height="13.30"/>
<rect x="1487.70" y="33.50" width="5.20" height="13.30"/>
<rect x="1487.70" y="807.20" width="5.20" height="26.60"/>
<rect x="1487.70" y="1593.50" width="5.20" height="13.30"/>
<rect x="1504.36" y="33.50" width="5.20" height="13.30"/>
<rect x="1504.36" y="807.20" width="5.20" height="26.60"/>
<rect x="1504.36" y="1593.50" width="5.20" height="13.30"/>
<rect x="1518.79" y="33.50" width="5.20" height="13.30"/>
<rect x="1518.79" y="807.20" width="5.20" height="26.60"/>
<rect x="1518.79" y="1593.50" width="5.20" height="13.30"/>
<rect x="1531.52" y="33.50" width="5.20" height="13.30"/>
<rect x="1531.52" y="807.20" width="5.20" height="26.60"/>
<rect x="1531.52" y="1593.50" width="5.20" height="13.30"/>
<rect x="301.50" y="716.45" width="26.50" height="5.00"/>
<rect x="1519.00" y="716.45" width="26.50" height="5.00"/>
<rect x="301.50" y="614.90" width="26.50" height="5.00"/>
<rect x="1519.00" y="614.90" width="26.50" height="5.00"/>
<rect x="301.50" y="513.35" width="26.50" height="5.00"/>
<rect x="1519.00" y="513.35" width="26.50" height="5.00"/>
<rect x="301.50" y="411.81" width="26.50" height="5.00"/>
<rect x="1519.00" y="411.81" width="26.50" height="5.00"/>
<rect x="301.50" y="310.26" width="26.50" height="5.00"/>
<rect x="1519.00" y="310.26" width="26.50" height="5.00"/>
<rect x="301.50" y="208.71" width="26.50" height="5.00"/>
<rect x="1519.00" y="208.71" width="26.50" height="5.00"/>
<rect x="301.50" y="107.16" width="26.50" height="5.00"/>
<rect x="1519.00" y="107.16" width="26.50" height="5.00"/>
<rect x="301.50" y="1502.84" width="26.50" height="5.00"/>
<rect x="1519.00" y="1502.84" width="26.50" height="5.00"/>
<rect x="301.50" y="1401.38" width="26.50" height="5.00"/>
<rect x="1519.00" y="1401.38" width="26.50" height="5.00"/>
<rect x="301.50" y="1299.93" width="26.50" height="5.00"/>
<rect x="1519.00" y="1299.93" width="26.50" height="5.00"/>
<rect x="301.50" y="1198.47" width="26.50" height="5.00"/>
<rect x="1519.00" y="1198.47" width="26.50" height="5.00"/>
<rect x="301.50" y="1097.01" width="26.50" height="5.00"/>
<rect x="1519.00" y="1097.01" width="26.50" height="5.00"/>
<rect x="301.50" y="995.55" width="26.50" height="5.00"/>
<rect x="1519.00" y="995.55" width="26.50" height="5.00"/>
<rect x="301.50" y="894.09" width="26.50" height="5.00"/>
<rect x="1519.00" y="894.09" width="26.50" height="5.00"/></g>
<g fill="#231f20" stroke="#fff" stroke-width="1.0" font-family="'Liberation Serif', serif" style="font-kerning:none" xml:space="preserve"><text transform="translate(207.30 843.90)" font-size="84.00">0</text>
<text transform="translate(207.30 742.62)" font-size="84.00">2</text>
<text transform="translate(207.30 641.35)" font-size="84.00">4</text>
<text transform="translate(207.30 540.07)" font-size="84.00">6</text>
<text transform="translate(207.30 438.79)" font-size="84.00">8</text>
<text transform="translate(165.30 337.51)" font-size="84.00">10</text>
<text transform="translate(165.30 236.24)" font-size="84.00">12</text>
<text transform="translate(165.30 134.96)" font-size="84.00">14</text>
<text transform="translate(207.30 1628.10)" font-size="84.00">0</text>
<text transform="translate(207.30 1526.91)" font-size="84.00">2</text>
<text transform="translate(207.30 1425.73)" font-size="84.00">4</text>
<text transform="translate(207.30 1324.54)" font-size="84.00">6</text>
<text transform="translate(207.30 1223.35)" font-size="84.00">8</text>
<text transform="translate(165.30 1122.16)" font-size="84.00">10</text>
<text transform="translate(165.30 1020.98)" font-size="84.00">12</text>
<text transform="translate(165.30 919.79)" font-size="84.00">14</text>
<text transform="translate(213.60 1711.50)" font-size="84.00">10</text>
<text transform="translate(300.39 1686.00) scale(1.3924 1.0000)" font-size="59.00">−</text>
<text transform="translate(352.34 1681.00)" font-size="59.00">1</text>
<text transform="translate(486.90 1711.50)" font-size="84.00">10</text>
<text transform="translate(573.10 1681.00)" font-size="59.00">0</text>
<text transform="translate(735.70 1711.50)" font-size="84.00">10</text>
<text transform="translate(821.90 1681.00)" font-size="59.00">1</text>
<text transform="translate(984.50 1711.50)" font-size="84.00">10</text>
<text transform="translate(1070.70 1681.00)" font-size="59.00">2</text>
<text transform="translate(1233.30 1711.50)" font-size="84.00">10</text>
<text transform="translate(1319.50 1681.00)" font-size="59.00">3</text>
<text transform="translate(1482.10 1711.50)" font-size="84.00">10</text>
<text transform="translate(1568.30 1681.00)" font-size="59.00">4</text>
<text transform="translate(548.65 1835.80) scale(1.0279 1.0000)" font-size="84.00">eigenvalue</text>
<text transform="translate(954.31 1837.52) scale(0.8964 1.1045)" font-size="84.00">(</text>
<text transform="translate(980.92 1835.80) scale(1.1029 1.0000)" font-size="84.00">Hartree</text>
<text transform="translate(1260.10 1837.52) scale(0.9112 1.1045)" font-size="84.00">)</text>
<text transform="rotate(-90.00 92.00 1263.60) translate(90.66 1263.60) scale(1.0621 1.0000)" font-size="84.00">phase</text>
<text transform="rotate(-90.00 92.00 1263.60) translate(318.89 1263.60) scale(1.0453 1.0000)" font-size="84.00">shift</text>
<text transform="rotate(-90.00 92.00 1263.60) translate(514.07 1264.46) scale(0.8543 1.1019)" font-size="84.00">(</text>
<text transform="rotate(-90.00 92.00 1263.60) translate(540.43 1263.60) scale(1.0900 1.0000)" font-size="84.00">units</text>
<text transform="rotate(-90.00 92.00 1263.60) translate(747.13 1263.60) scale(1.0317 1.0000)" font-size="84.00">of</text>
<text transform="rotate(-90.00 92.00 1263.60) translate(844.78 1263.60) scale(1.0096 1.0000)" font-size="84.00" font-style="italic">π</text>
<text transform="rotate(-90.00 92.00 1263.60) translate(895.38 1264.46) scale(0.8791 1.1019)" font-size="84.00">)</text>
<text transform="translate(925.16 217.93) scale(0.9104 1.0926)" font-size="84.00">(</text>
<text transform="translate(953.53 216.20) scale(1.1121 1.0000)" font-size="84.00">a</text>
<text transform="translate(996.97 217.93) scale(0.9249 1.0926)" font-size="84.00">)</text>
<text transform="translate(1060.05 216.20) scale(1.1193 1.0000)" font-size="84.00" font-style="italic">λ</text>
<text transform="translate(1125.36 222.70) scale(1.3902 1.0000)" font-size="84.00">=</text>
<text transform="translate(1211.48 216.20) scale(1.0149 1.0000)" font-size="84.00">5</text>
<text transform="translate(1259.03 216.20) scale(0.7635 1.0000)" font-size="84.00">,</text>
<text transform="translate(1291.49 216.20) scale(1.0742 1.0000)" font-size="84.00" font-style="italic">a</text>
<text transform="translate(1336.60 228.20) scale(1.1017 1.0000)" font-size="59.00">0</text>
<text transform="translate(925.38 1003.23) scale(0.9570 1.0926)" font-size="84.00">(</text>
<text transform="translate(960.80 1001.50) scale(0.9446 1.0000)" font-size="84.00">b</text>
<text transform="translate(1001.85 1003.23) scale(0.8929 1.0926)" font-size="84.00">)</text>
<text transform="translate(1065.59 1001.50) scale(1.1385 1.0000)" font-size="84.00" font-style="italic">λ</text>
<text transform="translate(1129.73 1008.00) scale(1.3978 1.0000)" font-size="84.00">=</text>
<text transform="translate(1216.53 1001.50) scale(1.0276 1.0000)" font-size="84.00">10</text>
<text transform="translate(1306.86 1001.50) scale(0.8456 1.0000)" font-size="84.00">,</text>
<text transform="translate(1339.24 1001.50) scale(1.1351 1.0000)" font-size="84.00" font-style="italic">a</text>
<text transform="translate(1383.97 1013.50) scale(1.0734 1.0000)" font-size="59.00">0</text>
<text transform="translate(540.40 409.80) rotate(27.50) translate(-4.00 0.00) scale(1.050 1.060)" font-size="74.7" font-style="italic">ℓ</text>
<text transform="translate(540.40 409.80) rotate(27.50) translate(50.75 6.00) scale(1.434 1.000)" font-size="74.7">=</text>
<text transform="translate(540.40 409.80) rotate(27.50) translate(130.80 0.00) scale(1.000 1.000)" font-size="74.7">0</text>
<text transform="translate(551.80 804.80) rotate(-5.30) translate(-4.00 0.00) scale(1.050 1.060)" font-size="74.7" font-style="italic">ℓ</text>
<text transform="translate(551.80 804.80) rotate(-5.30) translate(50.75 6.00) scale(1.434 1.000)" font-size="74.7">=</text>
<text transform="translate(551.80 804.80) rotate(-5.30) translate(130.80 0.00) scale(1.000 1.000)" font-size="74.7">12</text>
<text transform="translate(537.00 1074.80) rotate(38.00) translate(-4.00 0.00) scale(1.050 1.060)" font-size="74.7" font-style="italic">ℓ</text>
<text transform="translate(537.00 1074.80) rotate(38.00) translate(50.75 6.00) scale(1.434 1.000)" font-size="74.7">=</text>
<text transform="translate(537.00 1074.80) rotate(38.00) translate(130.80 0.00) scale(1.000 1.000)" font-size="74.7">0</text>
<text transform="translate(361.70 1430.60) rotate(6.70) translate(-4.00 0.00) scale(1.050 1.060)" font-size="74.7" font-style="italic">ℓ</text>
<text transform="translate(361.70 1430.60) rotate(6.70) translate(50.75 6.00) scale(1.434 1.000)" font-size="74.7">=</text>
<text transform="translate(361.70 1430.60) rotate(6.70) translate(130.80 0.00) scale(1.000 1.000)" font-size="74.7">12</text></g>
</svg>
</body></html>
